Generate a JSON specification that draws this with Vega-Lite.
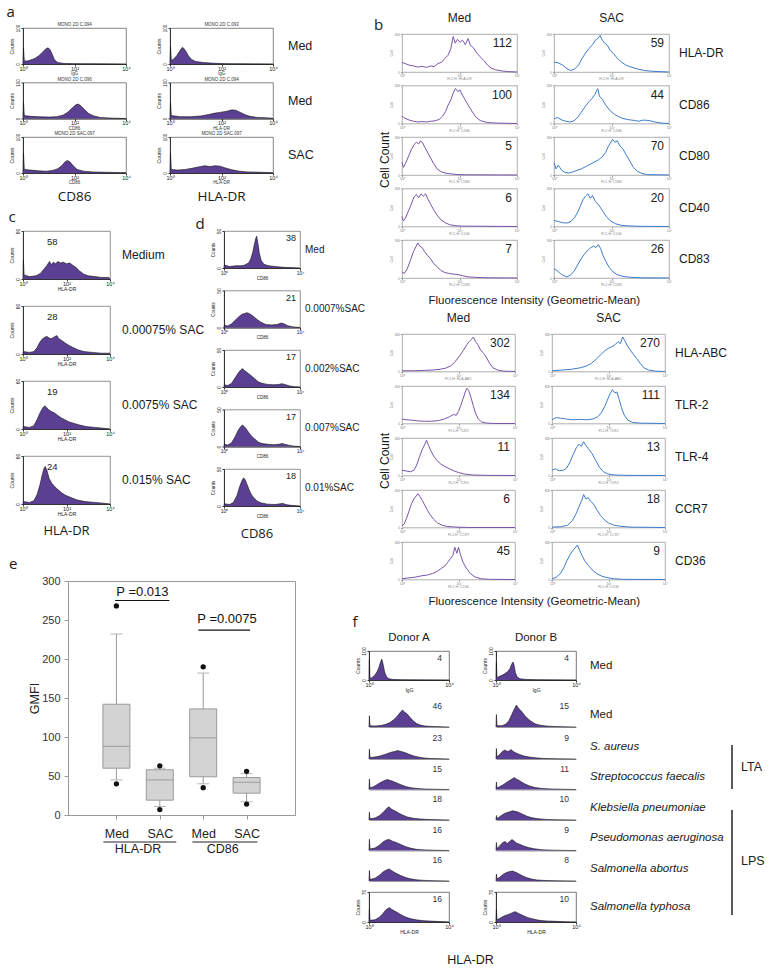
{
"$schema":"https://vega.github.io/schema/vega-lite/v6.json",
"background":"white",
"padding":{"left":6,"top":4,"right":0,"bottom":0},
"config":{
 "font":"Liberation Sans",
 "view":{"stroke":null},
 "axis":{"grid":false,"labelFont":"Liberation Sans","titleFont":"Liberation Sans","titleFontWeight":"normal","labelColor":"#222","titleColor":"#222","labelOverlap":false},
 "header":{"labelFont":"Liberation Sans","titleFont":"Liberation Sans","labelColor":"#1a1a1a","titleColor":"#1a1a1a","titleFontWeight":"normal"},
 "title":{"font":"Open Sans","fontWeight":"normal","color":"#1a1a1a","fontSize":15},
 "text":{"font":"Liberation Sans"}
},
"datasets":{
"a":[
{"r":"1","c":"CD86","t":"MONO 2D C.094","xt":"IgG"},
{"r":"1","c":"HLA-DR","t":"MONO 2D C.093","xt":"IgG"},
{"r":"2","c":"CD86","t":"MONO 2D C.096","xt":"CD86"},
{"r":"2","c":"HLA-DR","t":"MONO 2D C.094","xt":"HLA-DR"},
{"r":"3","c":"CD86","t":"MONO 2D SAC.097","xt":"CD86"},
{"r":"3","c":"HLA-DR","t":"MONO 2D SAC.097","xt":"HLA-DR"},
{"r":"1","c":"CD86","x":0,"y":0},{"r":"1","c":"CD86","x":0.02,"y":45},{"r":"1","c":"CD86","x":0.05,"y":9},{"r":"1","c":"CD86","x":0.15,"y":8},{"r":"1","c":"CD86","x":0.3,"y":11},{"r":"1","c":"CD86","x":0.45,"y":15},{"r":"1","c":"CD86","x":0.6,"y":22},{"r":"1","c":"CD86","x":0.75,"y":32},{"r":"1","c":"CD86","x":0.88,"y":42},{"r":"1","c":"CD86","x":0.97,"y":45},{"r":"1","c":"CD86","x":1.05,"y":40},{"r":"1","c":"CD86","x":1.13,"y":28},{"r":"1","c":"CD86","x":1.22,"y":12},{"r":"1","c":"CD86","x":1.35,"y":4},{"r":"1","c":"CD86","x":1.6,"y":1.5},{"r":"1","c":"CD86","x":2,"y":1},{"r":"1","c":"CD86","x":3,"y":0.5},{"r":"1","c":"CD86","x":4,"y":0},
{"r":"1","c":"HLA-DR","x":0,"y":0},{"r":"1","c":"HLA-DR","x":0.02,"y":48},{"r":"1","c":"HLA-DR","x":0.05,"y":10},{"r":"1","c":"HLA-DR","x":0.15,"y":14},{"r":"1","c":"HLA-DR","x":0.27,"y":24},{"r":"1","c":"HLA-DR","x":0.38,"y":36},{"r":"1","c":"HLA-DR","x":0.47,"y":46},{"r":"1","c":"HLA-DR","x":0.53,"y":44},{"r":"1","c":"HLA-DR","x":0.62,"y":35},{"r":"1","c":"HLA-DR","x":0.72,"y":22},{"r":"1","c":"HLA-DR","x":0.85,"y":12},{"r":"1","c":"HLA-DR","x":1,"y":7},{"r":"1","c":"HLA-DR","x":1.3,"y":4},{"r":"1","c":"HLA-DR","x":1.7,"y":2},{"r":"1","c":"HLA-DR","x":2.2,"y":1},{"r":"1","c":"HLA-DR","x":3,"y":0.5},{"r":"1","c":"HLA-DR","x":4,"y":0},
{"r":"2","c":"CD86","x":0,"y":0},{"r":"2","c":"CD86","x":0.02,"y":45},{"r":"2","c":"CD86","x":0.05,"y":8},{"r":"2","c":"CD86","x":0.3,"y":6},{"r":"2","c":"CD86","x":0.6,"y":5},{"r":"2","c":"CD86","x":1,"y":4},{"r":"2","c":"CD86","x":1.3,"y":5},{"r":"2","c":"CD86","x":1.55,"y":9},{"r":"2","c":"CD86","x":1.75,"y":18},{"r":"2","c":"CD86","x":1.92,"y":30},{"r":"2","c":"CD86","x":2.05,"y":38},{"r":"2","c":"CD86","x":2.15,"y":40},{"r":"2","c":"CD86","x":2.25,"y":35},{"r":"2","c":"CD86","x":2.4,"y":24},{"r":"2","c":"CD86","x":2.55,"y":14},{"r":"2","c":"CD86","x":2.75,"y":7},{"r":"2","c":"CD86","x":3,"y":3},{"r":"2","c":"CD86","x":3.5,"y":1},{"r":"2","c":"CD86","x":4,"y":0},
{"r":"2","c":"HLA-DR","x":0,"y":0},{"r":"2","c":"HLA-DR","x":0.02,"y":45},{"r":"2","c":"HLA-DR","x":0.05,"y":8},{"r":"2","c":"HLA-DR","x":0.4,"y":5},{"r":"2","c":"HLA-DR","x":0.8,"y":5},{"r":"2","c":"HLA-DR","x":1.2,"y":7},{"r":"2","c":"HLA-DR","x":1.5,"y":11},{"r":"2","c":"HLA-DR","x":1.75,"y":15},{"r":"2","c":"HLA-DR","x":1.95,"y":17},{"r":"2","c":"HLA-DR","x":2.1,"y":19},{"r":"2","c":"HLA-DR","x":2.25,"y":21},{"r":"2","c":"HLA-DR","x":2.4,"y":24},{"r":"2","c":"HLA-DR","x":2.55,"y":23},{"r":"2","c":"HLA-DR","x":2.7,"y":18},{"r":"2","c":"HLA-DR","x":2.9,"y":11},{"r":"2","c":"HLA-DR","x":3.1,"y":6},{"r":"2","c":"HLA-DR","x":3.4,"y":3},{"r":"2","c":"HLA-DR","x":3.7,"y":2},{"r":"2","c":"HLA-DR","x":4,"y":1},
{"r":"3","c":"CD86","x":0,"y":0},{"r":"3","c":"CD86","x":0.02,"y":55},{"r":"3","c":"CD86","x":0.05,"y":10},{"r":"3","c":"CD86","x":0.3,"y":8},{"r":"3","c":"CD86","x":0.6,"y":6},{"r":"3","c":"CD86","x":0.9,"y":5},{"r":"3","c":"CD86","x":1.15,"y":7},{"r":"3","c":"CD86","x":1.35,"y":12},{"r":"3","c":"CD86","x":1.5,"y":20},{"r":"3","c":"CD86","x":1.62,"y":30},{"r":"3","c":"CD86","x":1.72,"y":35},{"r":"3","c":"CD86","x":1.82,"y":31},{"r":"3","c":"CD86","x":1.95,"y":20},{"r":"3","c":"CD86","x":2.1,"y":10},{"r":"3","c":"CD86","x":2.35,"y":5},{"r":"3","c":"CD86","x":2.7,"y":3},{"r":"3","c":"CD86","x":3.2,"y":2},{"r":"3","c":"CD86","x":4,"y":1},
{"r":"3","c":"HLA-DR","x":0,"y":0},{"r":"3","c":"HLA-DR","x":0.02,"y":55},{"r":"3","c":"HLA-DR","x":0.05,"y":10},{"r":"3","c":"HLA-DR","x":0.3,"y":8},{"r":"3","c":"HLA-DR","x":0.6,"y":10},{"r":"3","c":"HLA-DR","x":0.85,"y":13},{"r":"3","c":"HLA-DR","x":1.1,"y":17},{"r":"3","c":"HLA-DR","x":1.35,"y":20},{"r":"3","c":"HLA-DR","x":1.55,"y":18},{"r":"3","c":"HLA-DR","x":1.75,"y":20},{"r":"3","c":"HLA-DR","x":1.95,"y":19},{"r":"3","c":"HLA-DR","x":2.15,"y":14},{"r":"3","c":"HLA-DR","x":2.4,"y":9},{"r":"3","c":"HLA-DR","x":2.7,"y":5},{"r":"3","c":"HLA-DR","x":3,"y":3},{"r":"3","c":"HLA-DR","x":3.5,"y":2},{"r":"3","c":"HLA-DR","x":4,"y":1}
],
"b1":[
{"r":"HLA-DR","c":"Med","n":"112","xt":"FL2-H: HLA-DR"},{"r":"CD86","c":"Med","n":"100","xt":"FL2-H: CD86"},{"r":"CD80","c":"Med","n":"5","xt":"FL1-H: CD80"},{"r":"CD40","c":"Med","n":"6","xt":"FL2-H: CD40"},{"r":"CD83","c":"Med","n":"7","xt":"FL1-H: CD83"},
{"r":"HLA-DR","c":"SAC","n":"59","xt":"FL2-H: HLA-DR"},{"r":"CD86","c":"SAC","n":"44","xt":"FL2-H: CD86"},{"r":"CD80","c":"SAC","n":"70","xt":"FL1-H: CD80"},{"r":"CD40","c":"SAC","n":"20","xt":"FL2-H: CD40"},{"r":"CD83","c":"SAC","n":"26","xt":"FL1-H: CD83"},
{"r":"HLA-DR","c":"Med","x":0,"y":25},{"r":"HLA-DR","c":"Med","x":0.12,"y":22},{"r":"HLA-DR","c":"Med","x":0.25,"y":18},{"r":"HLA-DR","c":"Med","x":0.4,"y":16},{"r":"HLA-DR","c":"Med","x":0.55,"y":13},{"r":"HLA-DR","c":"Med","x":0.7,"y":15},{"r":"HLA-DR","c":"Med","x":0.85,"y":12},{"r":"HLA-DR","c":"Med","x":1,"y":16},{"r":"HLA-DR","c":"Med","x":1.12,"y":14},{"r":"HLA-DR","c":"Med","x":1.25,"y":22},{"r":"HLA-DR","c":"Med","x":1.38,"y":26},{"r":"HLA-DR","c":"Med","x":1.5,"y":36},{"r":"HLA-DR","c":"Med","x":1.6,"y":44},{"r":"HLA-DR","c":"Med","x":1.7,"y":62},{"r":"HLA-DR","c":"Med","x":1.78,"y":93},{"r":"HLA-DR","c":"Med","x":1.85,"y":76},{"r":"HLA-DR","c":"Med","x":1.93,"y":86},{"r":"HLA-DR","c":"Med","x":2.02,"y":78},{"r":"HLA-DR","c":"Med","x":2.1,"y":84},{"r":"HLA-DR","c":"Med","x":2.2,"y":72},{"r":"HLA-DR","c":"Med","x":2.3,"y":88},{"r":"HLA-DR","c":"Med","x":2.38,"y":70},{"r":"HLA-DR","c":"Med","x":2.48,"y":64},{"r":"HLA-DR","c":"Med","x":2.6,"y":50},{"r":"HLA-DR","c":"Med","x":2.72,"y":40},{"r":"HLA-DR","c":"Med","x":2.85,"y":30},{"r":"HLA-DR","c":"Med","x":2.98,"y":18},{"r":"HLA-DR","c":"Med","x":3.1,"y":10},{"r":"HLA-DR","c":"Med","x":3.25,"y":6},{"r":"HLA-DR","c":"Med","x":3.45,"y":3},{"r":"HLA-DR","c":"Med","x":3.7,"y":1},{"r":"HLA-DR","c":"Med","x":4,"y":0},
{"r":"CD86","c":"Med","x":0,"y":20},{"r":"CD86","c":"Med","x":0.1,"y":14},{"r":"CD86","c":"Med","x":0.25,"y":9},{"r":"CD86","c":"Med","x":0.4,"y":6},{"r":"CD86","c":"Med","x":0.55,"y":4},{"r":"CD86","c":"Med","x":0.7,"y":5},{"r":"CD86","c":"Med","x":0.85,"y":4},{"r":"CD86","c":"Med","x":1,"y":6},{"r":"CD86","c":"Med","x":1.15,"y":7},{"r":"CD86","c":"Med","x":1.3,"y":11},{"r":"CD86","c":"Med","x":1.42,"y":20},{"r":"CD86","c":"Med","x":1.52,"y":32},{"r":"CD86","c":"Med","x":1.6,"y":48},{"r":"CD86","c":"Med","x":1.7,"y":62},{"r":"CD86","c":"Med","x":1.78,"y":80},{"r":"CD86","c":"Med","x":1.86,"y":92},{"r":"CD86","c":"Med","x":1.94,"y":84},{"r":"CD86","c":"Med","x":2.02,"y":88},{"r":"CD86","c":"Med","x":2.1,"y":75},{"r":"CD86","c":"Med","x":2.2,"y":62},{"r":"CD86","c":"Med","x":2.32,"y":46},{"r":"CD86","c":"Med","x":2.45,"y":30},{"r":"CD86","c":"Med","x":2.58,"y":16},{"r":"CD86","c":"Med","x":2.72,"y":8},{"r":"CD86","c":"Med","x":2.88,"y":4},{"r":"CD86","c":"Med","x":3.05,"y":2},{"r":"CD86","c":"Med","x":3.3,"y":1},{"r":"CD86","c":"Med","x":4,"y":0},
{"r":"CD80","c":"Med","x":0,"y":34},{"r":"CD80","c":"Med","x":0.05,"y":20},{"r":"CD80","c":"Med","x":0.12,"y":30},{"r":"CD80","c":"Med","x":0.22,"y":48},{"r":"CD80","c":"Med","x":0.32,"y":66},{"r":"CD80","c":"Med","x":0.42,"y":80},{"r":"CD80","c":"Med","x":0.5,"y":86},{"r":"CD80","c":"Med","x":0.58,"y":82},{"r":"CD80","c":"Med","x":0.65,"y":90},{"r":"CD80","c":"Med","x":0.72,"y":84},{"r":"CD80","c":"Med","x":0.8,"y":72},{"r":"CD80","c":"Med","x":0.9,"y":58},{"r":"CD80","c":"Med","x":1,"y":44},{"r":"CD80","c":"Med","x":1.1,"y":30},{"r":"CD80","c":"Med","x":1.22,"y":16},{"r":"CD80","c":"Med","x":1.35,"y":9},{"r":"CD80","c":"Med","x":1.5,"y":5},{"r":"CD80","c":"Med","x":1.7,"y":3},{"r":"CD80","c":"Med","x":1.95,"y":1},{"r":"CD80","c":"Med","x":2.3,"y":0.5},{"r":"CD80","c":"Med","x":4,"y":0},
{"r":"CD40","c":"Med","x":0,"y":26},{"r":"CD40","c":"Med","x":0.05,"y":15},{"r":"CD40","c":"Med","x":0.12,"y":22},{"r":"CD40","c":"Med","x":0.22,"y":40},{"r":"CD40","c":"Med","x":0.32,"y":58},{"r":"CD40","c":"Med","x":0.42,"y":78},{"r":"CD40","c":"Med","x":0.5,"y":84},{"r":"CD40","c":"Med","x":0.58,"y":76},{"r":"CD40","c":"Med","x":0.66,"y":86},{"r":"CD40","c":"Med","x":0.74,"y":80},{"r":"CD40","c":"Med","x":0.82,"y":86},{"r":"CD40","c":"Med","x":0.9,"y":72},{"r":"CD40","c":"Med","x":1,"y":58},{"r":"CD40","c":"Med","x":1.1,"y":44},{"r":"CD40","c":"Med","x":1.22,"y":30},{"r":"CD40","c":"Med","x":1.35,"y":18},{"r":"CD40","c":"Med","x":1.5,"y":10},{"r":"CD40","c":"Med","x":1.65,"y":5},{"r":"CD40","c":"Med","x":1.85,"y":2},{"r":"CD40","c":"Med","x":2.1,"y":1},{"r":"CD40","c":"Med","x":4,"y":0},
{"r":"CD83","c":"Med","x":0,"y":16},{"r":"CD83","c":"Med","x":0.08,"y":12},{"r":"CD83","c":"Med","x":0.18,"y":24},{"r":"CD83","c":"Med","x":0.3,"y":48},{"r":"CD83","c":"Med","x":0.4,"y":70},{"r":"CD83","c":"Med","x":0.48,"y":82},{"r":"CD83","c":"Med","x":0.55,"y":92},{"r":"CD83","c":"Med","x":0.62,"y":84},{"r":"CD83","c":"Med","x":0.7,"y":80},{"r":"CD83","c":"Med","x":0.78,"y":70},{"r":"CD83","c":"Med","x":0.88,"y":60},{"r":"CD83","c":"Med","x":0.98,"y":52},{"r":"CD83","c":"Med","x":1.1,"y":38},{"r":"CD83","c":"Med","x":1.22,"y":30},{"r":"CD83","c":"Med","x":1.35,"y":20},{"r":"CD83","c":"Med","x":1.5,"y":14},{"r":"CD83","c":"Med","x":1.65,"y":12},{"r":"CD83","c":"Med","x":1.8,"y":10},{"r":"CD83","c":"Med","x":1.95,"y":9},{"r":"CD83","c":"Med","x":2.1,"y":6},{"r":"CD83","c":"Med","x":2.3,"y":3},{"r":"CD83","c":"Med","x":2.6,"y":1.5},{"r":"CD83","c":"Med","x":3,"y":0.5},{"r":"CD83","c":"Med","x":4,"y":0},
{"r":"HLA-DR","c":"SAC","x":0,"y":26},{"r":"HLA-DR","c":"SAC","x":0.15,"y":24},{"r":"HLA-DR","c":"SAC","x":0.3,"y":18},{"r":"HLA-DR","c":"SAC","x":0.45,"y":9},{"r":"HLA-DR","c":"SAC","x":0.58,"y":4},{"r":"HLA-DR","c":"SAC","x":0.72,"y":8},{"r":"HLA-DR","c":"SAC","x":0.85,"y":18},{"r":"HLA-DR","c":"SAC","x":0.98,"y":36},{"r":"HLA-DR","c":"SAC","x":1.1,"y":50},{"r":"HLA-DR","c":"SAC","x":1.22,"y":62},{"r":"HLA-DR","c":"SAC","x":1.34,"y":72},{"r":"HLA-DR","c":"SAC","x":1.44,"y":84},{"r":"HLA-DR","c":"SAC","x":1.52,"y":88},{"r":"HLA-DR","c":"SAC","x":1.6,"y":96},{"r":"HLA-DR","c":"SAC","x":1.68,"y":84},{"r":"HLA-DR","c":"SAC","x":1.76,"y":76},{"r":"HLA-DR","c":"SAC","x":1.86,"y":70},{"r":"HLA-DR","c":"SAC","x":1.96,"y":56},{"r":"HLA-DR","c":"SAC","x":2.08,"y":48},{"r":"HLA-DR","c":"SAC","x":2.2,"y":36},{"r":"HLA-DR","c":"SAC","x":2.35,"y":26},{"r":"HLA-DR","c":"SAC","x":2.5,"y":18},{"r":"HLA-DR","c":"SAC","x":2.65,"y":14},{"r":"HLA-DR","c":"SAC","x":2.8,"y":10},{"r":"HLA-DR","c":"SAC","x":2.95,"y":7},{"r":"HLA-DR","c":"SAC","x":3.15,"y":4},{"r":"HLA-DR","c":"SAC","x":3.4,"y":2},{"r":"HLA-DR","c":"SAC","x":3.7,"y":1},{"r":"HLA-DR","c":"SAC","x":4,"y":0},
{"r":"CD86","c":"SAC","x":0,"y":12},{"r":"CD86","c":"SAC","x":0.12,"y":16},{"r":"CD86","c":"SAC","x":0.25,"y":10},{"r":"CD86","c":"SAC","x":0.4,"y":6},{"r":"CD86","c":"SAC","x":0.55,"y":4},{"r":"CD86","c":"SAC","x":0.7,"y":7},{"r":"CD86","c":"SAC","x":0.82,"y":16},{"r":"CD86","c":"SAC","x":0.95,"y":30},{"r":"CD86","c":"SAC","x":1.08,"y":44},{"r":"CD86","c":"SAC","x":1.2,"y":56},{"r":"CD86","c":"SAC","x":1.32,"y":66},{"r":"CD86","c":"SAC","x":1.42,"y":76},{"r":"CD86","c":"SAC","x":1.52,"y":92},{"r":"CD86","c":"SAC","x":1.58,"y":72},{"r":"CD86","c":"SAC","x":1.68,"y":64},{"r":"CD86","c":"SAC","x":1.8,"y":48},{"r":"CD86","c":"SAC","x":1.95,"y":34},{"r":"CD86","c":"SAC","x":2.1,"y":24},{"r":"CD86","c":"SAC","x":2.25,"y":18},{"r":"CD86","c":"SAC","x":2.4,"y":13},{"r":"CD86","c":"SAC","x":2.6,"y":10},{"r":"CD86","c":"SAC","x":2.8,"y":8},{"r":"CD86","c":"SAC","x":2.95,"y":6},{"r":"CD86","c":"SAC","x":3.1,"y":9},{"r":"CD86","c":"SAC","x":3.3,"y":8},{"r":"CD86","c":"SAC","x":3.5,"y":4},{"r":"CD86","c":"SAC","x":3.75,"y":1},{"r":"CD86","c":"SAC","x":4,"y":0},
{"r":"CD80","c":"SAC","x":0,"y":32},{"r":"CD80","c":"SAC","x":0.07,"y":16},{"r":"CD80","c":"SAC","x":0.15,"y":26},{"r":"CD80","c":"SAC","x":0.25,"y":14},{"r":"CD80","c":"SAC","x":0.35,"y":8},{"r":"CD80","c":"SAC","x":0.5,"y":5},{"r":"CD80","c":"SAC","x":0.65,"y":8},{"r":"CD80","c":"SAC","x":0.8,"y":12},{"r":"CD80","c":"SAC","x":0.95,"y":16},{"r":"CD80","c":"SAC","x":1.1,"y":22},{"r":"CD80","c":"SAC","x":1.25,"y":28},{"r":"CD80","c":"SAC","x":1.4,"y":34},{"r":"CD80","c":"SAC","x":1.55,"y":40},{"r":"CD80","c":"SAC","x":1.68,"y":48},{"r":"CD80","c":"SAC","x":1.8,"y":60},{"r":"CD80","c":"SAC","x":1.88,"y":74},{"r":"CD80","c":"SAC","x":1.96,"y":84},{"r":"CD80","c":"SAC","x":2.04,"y":94},{"r":"CD80","c":"SAC","x":2.12,"y":86},{"r":"CD80","c":"SAC","x":2.2,"y":90},{"r":"CD80","c":"SAC","x":2.3,"y":76},{"r":"CD80","c":"SAC","x":2.4,"y":68},{"r":"CD80","c":"SAC","x":2.52,"y":52},{"r":"CD80","c":"SAC","x":2.64,"y":36},{"r":"CD80","c":"SAC","x":2.76,"y":20},{"r":"CD80","c":"SAC","x":2.9,"y":10},{"r":"CD80","c":"SAC","x":3.05,"y":4},{"r":"CD80","c":"SAC","x":3.25,"y":1},{"r":"CD80","c":"SAC","x":4,"y":0},
{"r":"CD40","c":"SAC","x":0,"y":16},{"r":"CD40","c":"SAC","x":0.15,"y":13},{"r":"CD40","c":"SAC","x":0.3,"y":10},{"r":"CD40","c":"SAC","x":0.45,"y":9},{"r":"CD40","c":"SAC","x":0.6,"y":14},{"r":"CD40","c":"SAC","x":0.72,"y":24},{"r":"CD40","c":"SAC","x":0.84,"y":40},{"r":"CD40","c":"SAC","x":0.94,"y":58},{"r":"CD40","c":"SAC","x":1.02,"y":72},{"r":"CD40","c":"SAC","x":1.1,"y":80},{"r":"CD40","c":"SAC","x":1.18,"y":86},{"r":"CD40","c":"SAC","x":1.26,"y":74},{"r":"CD40","c":"SAC","x":1.34,"y":82},{"r":"CD40","c":"SAC","x":1.44,"y":66},{"r":"CD40","c":"SAC","x":1.56,"y":56},{"r":"CD40","c":"SAC","x":1.7,"y":40},{"r":"CD40","c":"SAC","x":1.84,"y":24},{"r":"CD40","c":"SAC","x":1.98,"y":14},{"r":"CD40","c":"SAC","x":2.15,"y":7},{"r":"CD40","c":"SAC","x":2.35,"y":3},{"r":"CD40","c":"SAC","x":2.6,"y":1.5},{"r":"CD40","c":"SAC","x":3,"y":0.5},{"r":"CD40","c":"SAC","x":4,"y":0},
{"r":"CD83","c":"SAC","x":0,"y":24},{"r":"CD83","c":"SAC","x":0.1,"y":20},{"r":"CD83","c":"SAC","x":0.22,"y":12},{"r":"CD83","c":"SAC","x":0.35,"y":6},{"r":"CD83","c":"SAC","x":0.45,"y":3},{"r":"CD83","c":"SAC","x":0.58,"y":8},{"r":"CD83","c":"SAC","x":0.7,"y":18},{"r":"CD83","c":"SAC","x":0.82,"y":34},{"r":"CD83","c":"SAC","x":0.94,"y":50},{"r":"CD83","c":"SAC","x":1.05,"y":62},{"r":"CD83","c":"SAC","x":1.16,"y":72},{"r":"CD83","c":"SAC","x":1.28,"y":80},{"r":"CD83","c":"SAC","x":1.38,"y":84},{"r":"CD83","c":"SAC","x":1.46,"y":80},{"r":"CD83","c":"SAC","x":1.54,"y":88},{"r":"CD83","c":"SAC","x":1.62,"y":78},{"r":"CD83","c":"SAC","x":1.7,"y":60},{"r":"CD83","c":"SAC","x":1.8,"y":44},{"r":"CD83","c":"SAC","x":1.92,"y":28},{"r":"CD83","c":"SAC","x":2.05,"y":16},{"r":"CD83","c":"SAC","x":2.2,"y":9},{"r":"CD83","c":"SAC","x":2.4,"y":4},{"r":"CD83","c":"SAC","x":2.65,"y":2},{"r":"CD83","c":"SAC","x":3,"y":0.5},{"r":"CD83","c":"SAC","x":4,"y":0}
],
"b2":[
{"r":"HLA-ABC","c":"Med","n":"302","xt":"FL1-H: HLA-ABC"},{"r":"TLR-2","c":"Med","n":"134","xt":"FL1-H: TLR2"},{"r":"TLR-4","c":"Med","n":"11","xt":"FL2-H: TLR4"},{"r":"CCR7","c":"Med","n":"6","xt":"FL2-H: CCR7"},{"r":"CD36","c":"Med","n":"45","xt":"FL1-H: CD36"},
{"r":"HLA-ABC","c":"SAC","n":"270","xt":"FL1-H: HLA-ABC"},{"r":"TLR-2","c":"SAC","n":"111","xt":"FL1-H: TLR2"},{"r":"TLR-4","c":"SAC","n":"13","xt":"FL2-H: TLR4"},{"r":"CCR7","c":"SAC","n":"18","xt":"FL2-H: CCR7"},{"r":"CD36","c":"SAC","n":"9","xt":"FL1-H: CD36"},
{"r":"HLA-ABC","c":"Med","x":0,"y":2},{"r":"HLA-ABC","c":"Med","x":0.4,"y":2},{"r":"HLA-ABC","c":"Med","x":0.8,"y":3},{"r":"HLA-ABC","c":"Med","x":1.1,"y":4},{"r":"HLA-ABC","c":"Med","x":1.35,"y":6},{"r":"HLA-ABC","c":"Med","x":1.55,"y":9},{"r":"HLA-ABC","c":"Med","x":1.72,"y":15},{"r":"HLA-ABC","c":"Med","x":1.86,"y":24},{"r":"HLA-ABC","c":"Med","x":1.98,"y":36},{"r":"HLA-ABC","c":"Med","x":2.1,"y":48},{"r":"HLA-ABC","c":"Med","x":2.2,"y":60},{"r":"HLA-ABC","c":"Med","x":2.3,"y":72},{"r":"HLA-ABC","c":"Med","x":2.38,"y":80},{"r":"HLA-ABC","c":"Med","x":2.46,"y":86},{"r":"HLA-ABC","c":"Med","x":2.53,"y":92},{"r":"HLA-ABC","c":"Med","x":2.6,"y":80},{"r":"HLA-ABC","c":"Med","x":2.68,"y":72},{"r":"HLA-ABC","c":"Med","x":2.76,"y":60},{"r":"HLA-ABC","c":"Med","x":2.84,"y":52},{"r":"HLA-ABC","c":"Med","x":2.92,"y":46},{"r":"HLA-ABC","c":"Med","x":3,"y":36},{"r":"HLA-ABC","c":"Med","x":3.1,"y":22},{"r":"HLA-ABC","c":"Med","x":3.22,"y":10},{"r":"HLA-ABC","c":"Med","x":3.38,"y":4},{"r":"HLA-ABC","c":"Med","x":3.6,"y":1},{"r":"HLA-ABC","c":"Med","x":4,"y":0},
{"r":"TLR-2","c":"Med","x":0,"y":12},{"r":"TLR-2","c":"Med","x":0.15,"y":10},{"r":"TLR-2","c":"Med","x":0.35,"y":9},{"r":"TLR-2","c":"Med","x":0.55,"y":7},{"r":"TLR-2","c":"Med","x":0.8,"y":6},{"r":"TLR-2","c":"Med","x":1.05,"y":6},{"r":"TLR-2","c":"Med","x":1.3,"y":8},{"r":"TLR-2","c":"Med","x":1.5,"y":12},{"r":"TLR-2","c":"Med","x":1.68,"y":18},{"r":"TLR-2","c":"Med","x":1.82,"y":24},{"r":"TLR-2","c":"Med","x":1.92,"y":22},{"r":"TLR-2","c":"Med","x":2,"y":32},{"r":"TLR-2","c":"Med","x":2.08,"y":48},{"r":"TLR-2","c":"Med","x":2.16,"y":66},{"r":"TLR-2","c":"Med","x":2.24,"y":84},{"r":"TLR-2","c":"Med","x":2.3,"y":94},{"r":"TLR-2","c":"Med","x":2.36,"y":88},{"r":"TLR-2","c":"Med","x":2.44,"y":70},{"r":"TLR-2","c":"Med","x":2.52,"y":48},{"r":"TLR-2","c":"Med","x":2.6,"y":28},{"r":"TLR-2","c":"Med","x":2.7,"y":12},{"r":"TLR-2","c":"Med","x":2.82,"y":4},{"r":"TLR-2","c":"Med","x":3,"y":1},{"r":"TLR-2","c":"Med","x":3.3,"y":0},{"r":"TLR-2","c":"Med","x":4,"y":0},
{"r":"TLR-4","c":"Med","x":0,"y":14},{"r":"TLR-4","c":"Med","x":0.15,"y":12},{"r":"TLR-4","c":"Med","x":0.3,"y":10},{"r":"TLR-4","c":"Med","x":0.42,"y":14},{"r":"TLR-4","c":"Med","x":0.52,"y":28},{"r":"TLR-4","c":"Med","x":0.62,"y":50},{"r":"TLR-4","c":"Med","x":0.72,"y":70},{"r":"TLR-4","c":"Med","x":0.8,"y":82},{"r":"TLR-4","c":"Med","x":0.87,"y":94},{"r":"TLR-4","c":"Med","x":0.94,"y":80},{"r":"TLR-4","c":"Med","x":1.02,"y":66},{"r":"TLR-4","c":"Med","x":1.12,"y":52},{"r":"TLR-4","c":"Med","x":1.24,"y":40},{"r":"TLR-4","c":"Med","x":1.38,"y":30},{"r":"TLR-4","c":"Med","x":1.52,"y":24},{"r":"TLR-4","c":"Med","x":1.68,"y":18},{"r":"TLR-4","c":"Med","x":1.85,"y":12},{"r":"TLR-4","c":"Med","x":2,"y":8},{"r":"TLR-4","c":"Med","x":2.2,"y":4},{"r":"TLR-4","c":"Med","x":2.5,"y":1.5},{"r":"TLR-4","c":"Med","x":2.9,"y":0.5},{"r":"TLR-4","c":"Med","x":4,"y":0},
{"r":"CCR7","c":"Med","x":0,"y":4},{"r":"CCR7","c":"Med","x":0.08,"y":10},{"r":"CCR7","c":"Med","x":0.16,"y":24},{"r":"CCR7","c":"Med","x":0.25,"y":44},{"r":"CCR7","c":"Med","x":0.34,"y":64},{"r":"CCR7","c":"Med","x":0.42,"y":76},{"r":"CCR7","c":"Med","x":0.5,"y":84},{"r":"CCR7","c":"Med","x":0.57,"y":90},{"r":"CCR7","c":"Med","x":0.64,"y":82},{"r":"CCR7","c":"Med","x":0.72,"y":72},{"r":"CCR7","c":"Med","x":0.8,"y":60},{"r":"CCR7","c":"Med","x":0.9,"y":46},{"r":"CCR7","c":"Med","x":1,"y":34},{"r":"CCR7","c":"Med","x":1.12,"y":22},{"r":"CCR7","c":"Med","x":1.26,"y":12},{"r":"CCR7","c":"Med","x":1.42,"y":6},{"r":"CCR7","c":"Med","x":1.6,"y":3},{"r":"CCR7","c":"Med","x":1.9,"y":1},{"r":"CCR7","c":"Med","x":2.4,"y":0},{"r":"CCR7","c":"Med","x":4,"y":0},
{"r":"CD36","c":"Med","x":0,"y":2},{"r":"CD36","c":"Med","x":0.2,"y":4},{"r":"CD36","c":"Med","x":0.45,"y":6},{"r":"CD36","c":"Med","x":0.7,"y":10},{"r":"CD36","c":"Med","x":0.9,"y":12},{"r":"CD36","c":"Med","x":1.08,"y":16},{"r":"CD36","c":"Med","x":1.25,"y":22},{"r":"CD36","c":"Med","x":1.4,"y":30},{"r":"CD36","c":"Med","x":1.52,"y":36},{"r":"CD36","c":"Med","x":1.62,"y":46},{"r":"CD36","c":"Med","x":1.72,"y":56},{"r":"CD36","c":"Med","x":1.8,"y":64},{"r":"CD36","c":"Med","x":1.87,"y":86},{"r":"CD36","c":"Med","x":1.94,"y":70},{"r":"CD36","c":"Med","x":2,"y":86},{"r":"CD36","c":"Med","x":2.07,"y":66},{"r":"CD36","c":"Med","x":2.16,"y":46},{"r":"CD36","c":"Med","x":2.28,"y":30},{"r":"CD36","c":"Med","x":2.42,"y":16},{"r":"CD36","c":"Med","x":2.58,"y":7},{"r":"CD36","c":"Med","x":2.78,"y":2},{"r":"CD36","c":"Med","x":3.1,"y":0.5},{"r":"CD36","c":"Med","x":4,"y":0},
{"r":"HLA-ABC","c":"SAC","x":0,"y":2},{"r":"HLA-ABC","c":"SAC","x":0.35,"y":4},{"r":"HLA-ABC","c":"SAC","x":0.7,"y":6},{"r":"HLA-ABC","c":"SAC","x":1,"y":10},{"r":"HLA-ABC","c":"SAC","x":1.2,"y":14},{"r":"HLA-ABC","c":"SAC","x":1.4,"y":22},{"r":"HLA-ABC","c":"SAC","x":1.58,"y":34},{"r":"HLA-ABC","c":"SAC","x":1.74,"y":46},{"r":"HLA-ABC","c":"SAC","x":1.88,"y":56},{"r":"HLA-ABC","c":"SAC","x":2,"y":62},{"r":"HLA-ABC","c":"SAC","x":2.12,"y":66},{"r":"HLA-ABC","c":"SAC","x":2.24,"y":72},{"r":"HLA-ABC","c":"SAC","x":2.34,"y":80},{"r":"HLA-ABC","c":"SAC","x":2.42,"y":74},{"r":"HLA-ABC","c":"SAC","x":2.5,"y":92},{"r":"HLA-ABC","c":"SAC","x":2.58,"y":82},{"r":"HLA-ABC","c":"SAC","x":2.66,"y":70},{"r":"HLA-ABC","c":"SAC","x":2.76,"y":58},{"r":"HLA-ABC","c":"SAC","x":2.88,"y":46},{"r":"HLA-ABC","c":"SAC","x":3,"y":34},{"r":"HLA-ABC","c":"SAC","x":3.12,"y":22},{"r":"HLA-ABC","c":"SAC","x":3.25,"y":10},{"r":"HLA-ABC","c":"SAC","x":3.42,"y":4},{"r":"HLA-ABC","c":"SAC","x":3.65,"y":1},{"r":"HLA-ABC","c":"SAC","x":4,"y":0},
{"r":"TLR-2","c":"SAC","x":0,"y":10},{"r":"TLR-2","c":"SAC","x":0.15,"y":16},{"r":"TLR-2","c":"SAC","x":0.3,"y":14},{"r":"TLR-2","c":"SAC","x":0.5,"y":12},{"r":"TLR-2","c":"SAC","x":0.75,"y":10},{"r":"TLR-2","c":"SAC","x":1,"y":11},{"r":"TLR-2","c":"SAC","x":1.25,"y":10},{"r":"TLR-2","c":"SAC","x":1.45,"y":12},{"r":"TLR-2","c":"SAC","x":1.62,"y":18},{"r":"TLR-2","c":"SAC","x":1.76,"y":30},{"r":"TLR-2","c":"SAC","x":1.88,"y":48},{"r":"TLR-2","c":"SAC","x":1.98,"y":66},{"r":"TLR-2","c":"SAC","x":2.06,"y":80},{"r":"TLR-2","c":"SAC","x":2.14,"y":90},{"r":"TLR-2","c":"SAC","x":2.22,"y":82},{"r":"TLR-2","c":"SAC","x":2.3,"y":84},{"r":"TLR-2","c":"SAC","x":2.38,"y":64},{"r":"TLR-2","c":"SAC","x":2.46,"y":42},{"r":"TLR-2","c":"SAC","x":2.56,"y":22},{"r":"TLR-2","c":"SAC","x":2.68,"y":9},{"r":"TLR-2","c":"SAC","x":2.85,"y":3},{"r":"TLR-2","c":"SAC","x":3.1,"y":1},{"r":"TLR-2","c":"SAC","x":4,"y":0},
{"r":"TLR-4","c":"SAC","x":0,"y":14},{"r":"TLR-4","c":"SAC","x":0.12,"y":18},{"r":"TLR-4","c":"SAC","x":0.25,"y":13},{"r":"TLR-4","c":"SAC","x":0.4,"y":14},{"r":"TLR-4","c":"SAC","x":0.52,"y":20},{"r":"TLR-4","c":"SAC","x":0.64,"y":36},{"r":"TLR-4","c":"SAC","x":0.76,"y":58},{"r":"TLR-4","c":"SAC","x":0.86,"y":74},{"r":"TLR-4","c":"SAC","x":0.96,"y":84},{"r":"TLR-4","c":"SAC","x":1.04,"y":78},{"r":"TLR-4","c":"SAC","x":1.12,"y":90},{"r":"TLR-4","c":"SAC","x":1.2,"y":80},{"r":"TLR-4","c":"SAC","x":1.3,"y":70},{"r":"TLR-4","c":"SAC","x":1.42,"y":58},{"r":"TLR-4","c":"SAC","x":1.55,"y":40},{"r":"TLR-4","c":"SAC","x":1.68,"y":22},{"r":"TLR-4","c":"SAC","x":1.82,"y":10},{"r":"TLR-4","c":"SAC","x":1.98,"y":4},{"r":"TLR-4","c":"SAC","x":2.2,"y":1.5},{"r":"TLR-4","c":"SAC","x":2.5,"y":0.5},{"r":"TLR-4","c":"SAC","x":4,"y":0},
{"r":"CCR7","c":"SAC","x":0,"y":1},{"r":"CCR7","c":"SAC","x":0.3,"y":2},{"r":"CCR7","c":"SAC","x":0.55,"y":6},{"r":"CCR7","c":"SAC","x":0.72,"y":18},{"r":"CCR7","c":"SAC","x":0.86,"y":38},{"r":"CCR7","c":"SAC","x":0.96,"y":56},{"r":"CCR7","c":"SAC","x":1.05,"y":72},{"r":"CCR7","c":"SAC","x":1.12,"y":88},{"r":"CCR7","c":"SAC","x":1.2,"y":76},{"r":"CCR7","c":"SAC","x":1.28,"y":80},{"r":"CCR7","c":"SAC","x":1.36,"y":70},{"r":"CCR7","c":"SAC","x":1.46,"y":64},{"r":"CCR7","c":"SAC","x":1.58,"y":48},{"r":"CCR7","c":"SAC","x":1.72,"y":32},{"r":"CCR7","c":"SAC","x":1.86,"y":20},{"r":"CCR7","c":"SAC","x":2,"y":12},{"r":"CCR7","c":"SAC","x":2.2,"y":6},{"r":"CCR7","c":"SAC","x":2.45,"y":3},{"r":"CCR7","c":"SAC","x":2.8,"y":1},{"r":"CCR7","c":"SAC","x":4,"y":0},
{"r":"CD36","c":"SAC","x":0,"y":2},{"r":"CD36","c":"SAC","x":0.15,"y":6},{"r":"CD36","c":"SAC","x":0.3,"y":16},{"r":"CD36","c":"SAC","x":0.42,"y":32},{"r":"CD36","c":"SAC","x":0.54,"y":52},{"r":"CD36","c":"SAC","x":0.64,"y":66},{"r":"CD36","c":"SAC","x":0.74,"y":78},{"r":"CD36","c":"SAC","x":0.82,"y":84},{"r":"CD36","c":"SAC","x":0.9,"y":92},{"r":"CD36","c":"SAC","x":0.98,"y":78},{"r":"CD36","c":"SAC","x":1.06,"y":64},{"r":"CD36","c":"SAC","x":1.16,"y":50},{"r":"CD36","c":"SAC","x":1.28,"y":38},{"r":"CD36","c":"SAC","x":1.42,"y":26},{"r":"CD36","c":"SAC","x":1.58,"y":16},{"r":"CD36","c":"SAC","x":1.76,"y":9},{"r":"CD36","c":"SAC","x":1.95,"y":5},{"r":"CD36","c":"SAC","x":2.2,"y":2},{"r":"CD36","c":"SAC","x":2.5,"y":0.5},{"r":"CD36","c":"SAC","x":4,"y":0}
],
"c":[
{"r":"Medium","n":"58"},{"r":"0.00075% SAC","n":"28"},{"r":"0.0075% SAC","n":"19"},{"r":"0.015% SAC","n":"24"},
{"r":"Medium","x":0,"y":0},{"r":"Medium","x":0.02,"y":24},{"r":"Medium","x":0.05,"y":5},{"r":"Medium","x":0.3,"y":3},{"r":"Medium","x":0.6,"y":4},{"r":"Medium","x":0.8,"y":7},{"r":"Medium","x":0.95,"y":12},{"r":"Medium","x":1.1,"y":17},{"r":"Medium","x":1.22,"y":22},{"r":"Medium","x":1.3,"y":18},{"r":"Medium","x":1.4,"y":21},{"r":"Medium","x":1.5,"y":19},{"r":"Medium","x":1.6,"y":22},{"r":"Medium","x":1.72,"y":20},{"r":"Medium","x":1.85,"y":21},{"r":"Medium","x":2,"y":19},{"r":"Medium","x":2.15,"y":20},{"r":"Medium","x":2.3,"y":17},{"r":"Medium","x":2.45,"y":14},{"r":"Medium","x":2.6,"y":10},{"r":"Medium","x":2.8,"y":6},{"r":"Medium","x":3,"y":4},{"r":"Medium","x":3.3,"y":3},{"r":"Medium","x":3.6,"y":2},{"r":"Medium","x":3.9,"y":2},{"r":"Medium","x":4,"y":1},
{"r":"0.00075% SAC","x":0,"y":0},{"r":"0.00075% SAC","x":0.02,"y":3},{"r":"0.00075% SAC","x":0.3,"y":2},{"r":"0.00075% SAC","x":0.5,"y":3},{"r":"0.00075% SAC","x":0.65,"y":8},{"r":"0.00075% SAC","x":0.78,"y":15},{"r":"0.00075% SAC","x":0.9,"y":19},{"r":"0.00075% SAC","x":1,"y":21},{"r":"0.00075% SAC","x":1.1,"y":22},{"r":"0.00075% SAC","x":1.2,"y":20},{"r":"0.00075% SAC","x":1.3,"y":19},{"r":"0.00075% SAC","x":1.42,"y":21},{"r":"0.00075% SAC","x":1.55,"y":23},{"r":"0.00075% SAC","x":1.65,"y":19},{"r":"0.00075% SAC","x":1.78,"y":17},{"r":"0.00075% SAC","x":1.92,"y":14},{"r":"0.00075% SAC","x":2.1,"y":11},{"r":"0.00075% SAC","x":2.3,"y":8},{"r":"0.00075% SAC","x":2.55,"y":5},{"r":"0.00075% SAC","x":2.8,"y":3},{"r":"0.00075% SAC","x":3.2,"y":2},{"r":"0.00075% SAC","x":3.6,"y":1},{"r":"0.00075% SAC","x":4,"y":1},
{"r":"0.0075% SAC","x":0,"y":0},{"r":"0.0075% SAC","x":0.02,"y":3},{"r":"0.0075% SAC","x":0.3,"y":2},{"r":"0.0075% SAC","x":0.5,"y":4},{"r":"0.0075% SAC","x":0.65,"y":12},{"r":"0.0075% SAC","x":0.78,"y":20},{"r":"0.0075% SAC","x":0.9,"y":26},{"r":"0.0075% SAC","x":1,"y":29},{"r":"0.0075% SAC","x":1.08,"y":27},{"r":"0.0075% SAC","x":1.18,"y":24},{"r":"0.0075% SAC","x":1.3,"y":22},{"r":"0.0075% SAC","x":1.45,"y":20},{"r":"0.0075% SAC","x":1.6,"y":17},{"r":"0.0075% SAC","x":1.75,"y":14},{"r":"0.0075% SAC","x":1.9,"y":12},{"r":"0.0075% SAC","x":2.1,"y":9},{"r":"0.0075% SAC","x":2.35,"y":7},{"r":"0.0075% SAC","x":2.6,"y":5},{"r":"0.0075% SAC","x":2.9,"y":3},{"r":"0.0075% SAC","x":3.3,"y":2},{"r":"0.0075% SAC","x":3.7,"y":1},{"r":"0.0075% SAC","x":4,"y":0},
{"r":"0.015% SAC","x":0,"y":0},{"r":"0.015% SAC","x":0.02,"y":3},{"r":"0.015% SAC","x":0.3,"y":2},{"r":"0.015% SAC","x":0.5,"y":4},{"r":"0.015% SAC","x":0.65,"y":12},{"r":"0.015% SAC","x":0.78,"y":24},{"r":"0.015% SAC","x":0.88,"y":36},{"r":"0.015% SAC","x":0.96,"y":44},{"r":"0.015% SAC","x":1.02,"y":47},{"r":"0.015% SAC","x":1.1,"y":42},{"r":"0.015% SAC","x":1.2,"y":32},{"r":"0.015% SAC","x":1.32,"y":26},{"r":"0.015% SAC","x":1.45,"y":22},{"r":"0.015% SAC","x":1.6,"y":18},{"r":"0.015% SAC","x":1.78,"y":14},{"r":"0.015% SAC","x":1.95,"y":11},{"r":"0.015% SAC","x":2.2,"y":8},{"r":"0.015% SAC","x":2.5,"y":5},{"r":"0.015% SAC","x":2.85,"y":3},{"r":"0.015% SAC","x":3.3,"y":2},{"r":"0.015% SAC","x":3.7,"y":1},{"r":"0.015% SAC","x":4,"y":0}
],
"d":[
{"r":"Med","n":"38"},{"r":"0.0007%SAC","n":"21"},{"r":"0.002%SAC","n":"17"},{"r":"0.007%SAC","n":"17"},{"r":"0.01%SAC","n":"18"},
{"r":"Med","x":0,"y":0},{"r":"Med","x":0.02,"y":4},{"r":"Med","x":0.3,"y":2},{"r":"Med","x":0.6,"y":3},{"r":"Med","x":0.9,"y":3},{"r":"Med","x":1.1,"y":4},{"r":"Med","x":1.3,"y":7},{"r":"Med","x":1.42,"y":13},{"r":"Med","x":1.52,"y":22},{"r":"Med","x":1.6,"y":32},{"r":"Med","x":1.67,"y":40},{"r":"Med","x":1.72,"y":43},{"r":"Med","x":1.78,"y":34},{"r":"Med","x":1.86,"y":20},{"r":"Med","x":1.96,"y":10},{"r":"Med","x":2.1,"y":5},{"r":"Med","x":2.35,"y":3},{"r":"Med","x":2.7,"y":2},{"r":"Med","x":3.1,"y":1},{"r":"Med","x":4,"y":0},
{"r":"0.0007%SAC","x":0,"y":0},{"r":"0.0007%SAC","x":0.02,"y":3},{"r":"0.0007%SAC","x":0.2,"y":2},{"r":"0.0007%SAC","x":0.4,"y":5},{"r":"0.0007%SAC","x":0.6,"y":10},{"r":"0.0007%SAC","x":0.8,"y":15},{"r":"0.0007%SAC","x":0.95,"y":18},{"r":"0.0007%SAC","x":1.1,"y":19},{"r":"0.0007%SAC","x":1.2,"y":20},{"r":"0.0007%SAC","x":1.32,"y":19},{"r":"0.0007%SAC","x":1.45,"y":17},{"r":"0.0007%SAC","x":1.6,"y":14},{"r":"0.0007%SAC","x":1.78,"y":10},{"r":"0.0007%SAC","x":1.95,"y":7},{"r":"0.0007%SAC","x":2.2,"y":4},{"r":"0.0007%SAC","x":2.5,"y":3.5},{"r":"0.0007%SAC","x":2.8,"y":4},{"r":"0.0007%SAC","x":3,"y":6},{"r":"0.0007%SAC","x":3.15,"y":5},{"r":"0.0007%SAC","x":3.35,"y":2.5},{"r":"0.0007%SAC","x":3.6,"y":1},{"r":"0.0007%SAC","x":4,"y":0},
{"r":"0.002%SAC","x":0,"y":0},{"r":"0.002%SAC","x":0.02,"y":3},{"r":"0.002%SAC","x":0.2,"y":2},{"r":"0.002%SAC","x":0.4,"y":5},{"r":"0.002%SAC","x":0.58,"y":12},{"r":"0.002%SAC","x":0.75,"y":19},{"r":"0.002%SAC","x":0.88,"y":23},{"r":"0.002%SAC","x":0.96,"y":25},{"r":"0.002%SAC","x":1.05,"y":23},{"r":"0.002%SAC","x":1.15,"y":21},{"r":"0.002%SAC","x":1.3,"y":18},{"r":"0.002%SAC","x":1.45,"y":15},{"r":"0.002%SAC","x":1.62,"y":11},{"r":"0.002%SAC","x":1.8,"y":7},{"r":"0.002%SAC","x":2,"y":5},{"r":"0.002%SAC","x":2.3,"y":3.5},{"r":"0.002%SAC","x":2.6,"y":3},{"r":"0.002%SAC","x":2.9,"y":3.5},{"r":"0.002%SAC","x":3.05,"y":4.5},{"r":"0.002%SAC","x":3.2,"y":3.5},{"r":"0.002%SAC","x":3.45,"y":1.5},{"r":"0.002%SAC","x":3.7,"y":0.5},{"r":"0.002%SAC","x":4,"y":0},
{"r":"0.007%SAC","x":0,"y":0},{"r":"0.007%SAC","x":0.02,"y":3},{"r":"0.007%SAC","x":0.2,"y":2},{"r":"0.007%SAC","x":0.4,"y":5},{"r":"0.007%SAC","x":0.58,"y":13},{"r":"0.007%SAC","x":0.75,"y":22},{"r":"0.007%SAC","x":0.88,"y":27},{"r":"0.007%SAC","x":0.98,"y":29},{"r":"0.007%SAC","x":1.06,"y":27},{"r":"0.007%SAC","x":1.16,"y":24},{"r":"0.007%SAC","x":1.3,"y":19},{"r":"0.007%SAC","x":1.45,"y":14},{"r":"0.007%SAC","x":1.62,"y":10},{"r":"0.007%SAC","x":1.8,"y":6},{"r":"0.007%SAC","x":2,"y":4},{"r":"0.007%SAC","x":2.3,"y":3},{"r":"0.007%SAC","x":2.6,"y":2.5},{"r":"0.007%SAC","x":2.9,"y":3},{"r":"0.007%SAC","x":3.05,"y":4},{"r":"0.007%SAC","x":3.2,"y":3},{"r":"0.007%SAC","x":3.45,"y":1.5},{"r":"0.007%SAC","x":3.7,"y":0.5},{"r":"0.007%SAC","x":4,"y":0},
{"r":"0.01%SAC","x":0,"y":0},{"r":"0.01%SAC","x":0.02,"y":3},{"r":"0.01%SAC","x":0.3,"y":2},{"r":"0.01%SAC","x":0.5,"y":5},{"r":"0.01%SAC","x":0.68,"y":14},{"r":"0.01%SAC","x":0.82,"y":26},{"r":"0.01%SAC","x":0.94,"y":34},{"r":"0.01%SAC","x":1.03,"y":38},{"r":"0.01%SAC","x":1.1,"y":36},{"r":"0.01%SAC","x":1.2,"y":30},{"r":"0.01%SAC","x":1.32,"y":22},{"r":"0.01%SAC","x":1.45,"y":15},{"r":"0.01%SAC","x":1.6,"y":10},{"r":"0.01%SAC","x":1.78,"y":6},{"r":"0.01%SAC","x":1.98,"y":4},{"r":"0.01%SAC","x":2.3,"y":2.5},{"r":"0.01%SAC","x":2.7,"y":2},{"r":"0.01%SAC","x":2.95,"y":3},{"r":"0.01%SAC","x":3.1,"y":3.5},{"r":"0.01%SAC","x":3.25,"y":2},{"r":"0.01%SAC","x":3.5,"y":1},{"r":"0.01%SAC","x":4,"y":0}
],
"f1":[
{"r":"Med","c":"Donor A","n":"4"},{"r":"Med","c":"Donor B","n":"4"},
{"r":"Med","c":"Donor A","x":0,"y":0},{"r":"Med","c":"Donor A","x":0.02,"y":70},{"r":"Med","c":"Donor A","x":0.05,"y":6},{"r":"Med","c":"Donor A","x":0.15,"y":8},{"r":"Med","c":"Donor A","x":0.28,"y":16},{"r":"Med","c":"Donor A","x":0.4,"y":28},{"r":"Med","c":"Donor A","x":0.5,"y":44},{"r":"Med","c":"Donor A","x":0.58,"y":62},{"r":"Med","c":"Donor A","x":0.64,"y":72},{"r":"Med","c":"Donor A","x":0.7,"y":56},{"r":"Med","c":"Donor A","x":0.78,"y":28},{"r":"Med","c":"Donor A","x":0.88,"y":10},{"r":"Med","c":"Donor A","x":1,"y":4},{"r":"Med","c":"Donor A","x":1.2,"y":2},{"r":"Med","c":"Donor A","x":1.6,"y":1},{"r":"Med","c":"Donor A","x":2.2,"y":0.5},{"r":"Med","c":"Donor A","x":4,"y":0},
{"r":"Med","c":"Donor B","x":0,"y":0},{"r":"Med","c":"Donor B","x":0.02,"y":60},{"r":"Med","c":"Donor B","x":0.05,"y":8},{"r":"Med","c":"Donor B","x":0.15,"y":12},{"r":"Med","c":"Donor B","x":0.3,"y":16},{"r":"Med","c":"Donor B","x":0.45,"y":22},{"r":"Med","c":"Donor B","x":0.6,"y":30},{"r":"Med","c":"Donor B","x":0.7,"y":40},{"r":"Med","c":"Donor B","x":0.78,"y":54},{"r":"Med","c":"Donor B","x":0.85,"y":62},{"r":"Med","c":"Donor B","x":0.9,"y":52},{"r":"Med","c":"Donor B","x":0.97,"y":25},{"r":"Med","c":"Donor B","x":1.06,"y":10},{"r":"Med","c":"Donor B","x":1.2,"y":4},{"r":"Med","c":"Donor B","x":1.5,"y":2},{"r":"Med","c":"Donor B","x":2,"y":1},{"r":"Med","c":"Donor B","x":2.6,"y":0.5},{"r":"Med","c":"Donor B","x":4,"y":0}
],
"f2a":[
{"r":"Med","c":"Donor A","n":"46"},{"r":"Med","c":"Donor B","n":"15"},
{"r":"Med","c":"Donor A","x":0,"y":0},{"r":"Med","c":"Donor A","x":0.02,"y":45},{"r":"Med","c":"Donor A","x":0.05,"y":5},{"r":"Med","c":"Donor A","x":0.3,"y":4},{"r":"Med","c":"Donor A","x":0.6,"y":6},{"r":"Med","c":"Donor A","x":0.85,"y":11},{"r":"Med","c":"Donor A","x":1.05,"y":18},{"r":"Med","c":"Donor A","x":1.22,"y":28},{"r":"Med","c":"Donor A","x":1.38,"y":40},{"r":"Med","c":"Donor A","x":1.5,"y":52},{"r":"Med","c":"Donor A","x":1.6,"y":62},{"r":"Med","c":"Donor A","x":1.68,"y":68},{"r":"Med","c":"Donor A","x":1.76,"y":60},{"r":"Med","c":"Donor A","x":1.85,"y":56},{"r":"Med","c":"Donor A","x":1.95,"y":48},{"r":"Med","c":"Donor A","x":2.08,"y":36},{"r":"Med","c":"Donor A","x":2.22,"y":24},{"r":"Med","c":"Donor A","x":2.38,"y":14},{"r":"Med","c":"Donor A","x":2.55,"y":8},{"r":"Med","c":"Donor A","x":2.8,"y":4},{"r":"Med","c":"Donor A","x":3.2,"y":2},{"r":"Med","c":"Donor A","x":3.6,"y":1},{"r":"Med","c":"Donor A","x":4,"y":0},
{"r":"Med","c":"Donor B","x":0,"y":0},{"r":"Med","c":"Donor B","x":0.02,"y":50},{"r":"Med","c":"Donor B","x":0.05,"y":5},{"r":"Med","c":"Donor B","x":0.3,"y":5},{"r":"Med","c":"Donor B","x":0.5,"y":12},{"r":"Med","c":"Donor B","x":0.65,"y":26},{"r":"Med","c":"Donor B","x":0.78,"y":48},{"r":"Med","c":"Donor B","x":0.88,"y":66},{"r":"Med","c":"Donor B","x":0.96,"y":78},{"r":"Med","c":"Donor B","x":1.02,"y":88},{"r":"Med","c":"Donor B","x":1.08,"y":80},{"r":"Med","c":"Donor B","x":1.16,"y":72},{"r":"Med","c":"Donor B","x":1.26,"y":64},{"r":"Med","c":"Donor B","x":1.38,"y":52},{"r":"Med","c":"Donor B","x":1.5,"y":40},{"r":"Med","c":"Donor B","x":1.64,"y":30},{"r":"Med","c":"Donor B","x":1.8,"y":20},{"r":"Med","c":"Donor B","x":1.98,"y":12},{"r":"Med","c":"Donor B","x":2.2,"y":7},{"r":"Med","c":"Donor B","x":2.5,"y":4},{"r":"Med","c":"Donor B","x":2.9,"y":2},{"r":"Med","c":"Donor B","x":3.4,"y":1},{"r":"Med","c":"Donor B","x":4,"y":0}
],
"f2b":[
{"r":"S. aureus","c":"Donor A","n":"23"},{"r":"S. aureus","c":"Donor B","n":"9"},{"r":"Streptococcus faecalis","c":"Donor A","n":"15"},{"r":"Streptococcus faecalis","c":"Donor B","n":"11"},{"r":"Klebsiella pneumoniae","c":"Donor A","n":"18"},{"r":"Klebsiella pneumoniae","c":"Donor B","n":"10"},{"r":"Pseudomonas aeruginosa","c":"Donor A","n":"16"},{"r":"Pseudomonas aeruginosa","c":"Donor B","n":"9"},{"r":"Salmonella abortus","c":"Donor A","n":"16"},{"r":"Salmonella abortus","c":"Donor B","n":"8"},
{"r":"S. aureus","c":"Donor A","x":0,"y":0},{"r":"S. aureus","c":"Donor A","x":0.02,"y":40},{"r":"S. aureus","c":"Donor A","x":0.05,"y":6},{"r":"S. aureus","c":"Donor A","x":0.3,"y":8},{"r":"S. aureus","c":"Donor A","x":0.55,"y":12},{"r":"S. aureus","c":"Donor A","x":0.8,"y":18},{"r":"S. aureus","c":"Donor A","x":1,"y":24},{"r":"S. aureus","c":"Donor A","x":1.15,"y":28},{"r":"S. aureus","c":"Donor A","x":1.3,"y":30},{"r":"S. aureus","c":"Donor A","x":1.42,"y":34},{"r":"S. aureus","c":"Donor A","x":1.55,"y":31},{"r":"S. aureus","c":"Donor A","x":1.7,"y":28},{"r":"S. aureus","c":"Donor A","x":1.85,"y":24},{"r":"S. aureus","c":"Donor A","x":2,"y":19},{"r":"S. aureus","c":"Donor A","x":2.2,"y":13},{"r":"S. aureus","c":"Donor A","x":2.45,"y":8},{"r":"S. aureus","c":"Donor A","x":2.75,"y":4},{"r":"S. aureus","c":"Donor A","x":3.1,"y":2},{"r":"S. aureus","c":"Donor A","x":3.6,"y":1},{"r":"S. aureus","c":"Donor A","x":4,"y":0},
{"r":"S. aureus","c":"Donor B","x":0,"y":0},{"r":"S. aureus","c":"Donor B","x":0.02,"y":42},{"r":"S. aureus","c":"Donor B","x":0.05,"y":8},{"r":"S. aureus","c":"Donor B","x":0.18,"y":18},{"r":"S. aureus","c":"Donor B","x":0.32,"y":30},{"r":"S. aureus","c":"Donor B","x":0.45,"y":36},{"r":"S. aureus","c":"Donor B","x":0.56,"y":30},{"r":"S. aureus","c":"Donor B","x":0.66,"y":32},{"r":"S. aureus","c":"Donor B","x":0.76,"y":38},{"r":"S. aureus","c":"Donor B","x":0.86,"y":30},{"r":"S. aureus","c":"Donor B","x":1,"y":24},{"r":"S. aureus","c":"Donor B","x":1.18,"y":18},{"r":"S. aureus","c":"Donor B","x":1.4,"y":12},{"r":"S. aureus","c":"Donor B","x":1.65,"y":8},{"r":"S. aureus","c":"Donor B","x":1.95,"y":5},{"r":"S. aureus","c":"Donor B","x":2.4,"y":2},{"r":"S. aureus","c":"Donor B","x":3,"y":1},{"r":"S. aureus","c":"Donor B","x":4,"y":0},
{"r":"Streptococcus faecalis","c":"Donor A","x":0,"y":0},{"r":"Streptococcus faecalis","c":"Donor A","x":0.02,"y":42},{"r":"Streptococcus faecalis","c":"Donor A","x":0.05,"y":6},{"r":"Streptococcus faecalis","c":"Donor A","x":0.25,"y":12},{"r":"Streptococcus faecalis","c":"Donor A","x":0.45,"y":22},{"r":"Streptococcus faecalis","c":"Donor A","x":0.62,"y":30},{"r":"Streptococcus faecalis","c":"Donor A","x":0.78,"y":36},{"r":"Streptococcus faecalis","c":"Donor A","x":0.92,"y":40},{"r":"Streptococcus faecalis","c":"Donor A","x":1.02,"y":37},{"r":"Streptococcus faecalis","c":"Donor A","x":1.15,"y":34},{"r":"Streptococcus faecalis","c":"Donor A","x":1.3,"y":29},{"r":"Streptococcus faecalis","c":"Donor A","x":1.48,"y":23},{"r":"Streptococcus faecalis","c":"Donor A","x":1.66,"y":17},{"r":"Streptococcus faecalis","c":"Donor A","x":1.88,"y":11},{"r":"Streptococcus faecalis","c":"Donor A","x":2.1,"y":7},{"r":"Streptococcus faecalis","c":"Donor A","x":2.4,"y":4},{"r":"Streptococcus faecalis","c":"Donor A","x":2.8,"y":2},{"r":"Streptococcus faecalis","c":"Donor A","x":3.3,"y":1},{"r":"Streptococcus faecalis","c":"Donor A","x":4,"y":0},
{"r":"Streptococcus faecalis","c":"Donor B","x":0,"y":0},{"r":"Streptococcus faecalis","c":"Donor B","x":0.02,"y":30},{"r":"Streptococcus faecalis","c":"Donor B","x":0.05,"y":6},{"r":"Streptococcus faecalis","c":"Donor B","x":0.2,"y":12},{"r":"Streptococcus faecalis","c":"Donor B","x":0.38,"y":20},{"r":"Streptococcus faecalis","c":"Donor B","x":0.56,"y":30},{"r":"Streptococcus faecalis","c":"Donor B","x":0.72,"y":38},{"r":"Streptococcus faecalis","c":"Donor B","x":0.84,"y":44},{"r":"Streptococcus faecalis","c":"Donor B","x":0.92,"y":48},{"r":"Streptococcus faecalis","c":"Donor B","x":1,"y":42},{"r":"Streptococcus faecalis","c":"Donor B","x":1.12,"y":38},{"r":"Streptococcus faecalis","c":"Donor B","x":1.28,"y":30},{"r":"Streptococcus faecalis","c":"Donor B","x":1.45,"y":22},{"r":"Streptococcus faecalis","c":"Donor B","x":1.68,"y":14},{"r":"Streptococcus faecalis","c":"Donor B","x":1.95,"y":8},{"r":"Streptococcus faecalis","c":"Donor B","x":2.3,"y":4},{"r":"Streptococcus faecalis","c":"Donor B","x":2.8,"y":2},{"r":"Streptococcus faecalis","c":"Donor B","x":3.4,"y":1},{"r":"Streptococcus faecalis","c":"Donor B","x":4,"y":0},
{"r":"Klebsiella pneumoniae","c":"Donor A","x":0,"y":0},{"r":"Klebsiella pneumoniae","c":"Donor A","x":0.02,"y":32},{"r":"Klebsiella pneumoniae","c":"Donor A","x":0.05,"y":5},{"r":"Klebsiella pneumoniae","c":"Donor A","x":0.3,"y":8},{"r":"Klebsiella pneumoniae","c":"Donor A","x":0.52,"y":17},{"r":"Klebsiella pneumoniae","c":"Donor A","x":0.7,"y":30},{"r":"Klebsiella pneumoniae","c":"Donor A","x":0.84,"y":42},{"r":"Klebsiella pneumoniae","c":"Donor A","x":0.94,"y":50},{"r":"Klebsiella pneumoniae","c":"Donor A","x":1,"y":53},{"r":"Klebsiella pneumoniae","c":"Donor A","x":1.08,"y":46},{"r":"Klebsiella pneumoniae","c":"Donor A","x":1.2,"y":40},{"r":"Klebsiella pneumoniae","c":"Donor A","x":1.35,"y":34},{"r":"Klebsiella pneumoniae","c":"Donor A","x":1.5,"y":27},{"r":"Klebsiella pneumoniae","c":"Donor A","x":1.7,"y":19},{"r":"Klebsiella pneumoniae","c":"Donor A","x":1.92,"y":12},{"r":"Klebsiella pneumoniae","c":"Donor A","x":2.2,"y":7},{"r":"Klebsiella pneumoniae","c":"Donor A","x":2.55,"y":4},{"r":"Klebsiella pneumoniae","c":"Donor A","x":3,"y":2},{"r":"Klebsiella pneumoniae","c":"Donor A","x":3.5,"y":1},{"r":"Klebsiella pneumoniae","c":"Donor A","x":4,"y":0},
{"r":"Klebsiella pneumoniae","c":"Donor B","x":0,"y":0},{"r":"Klebsiella pneumoniae","c":"Donor B","x":0.02,"y":18},{"r":"Klebsiella pneumoniae","c":"Donor B","x":0.05,"y":6},{"r":"Klebsiella pneumoniae","c":"Donor B","x":0.2,"y":14},{"r":"Klebsiella pneumoniae","c":"Donor B","x":0.38,"y":24},{"r":"Klebsiella pneumoniae","c":"Donor B","x":0.55,"y":30},{"r":"Klebsiella pneumoniae","c":"Donor B","x":0.7,"y":33},{"r":"Klebsiella pneumoniae","c":"Donor B","x":0.82,"y":37},{"r":"Klebsiella pneumoniae","c":"Donor B","x":0.94,"y":35},{"r":"Klebsiella pneumoniae","c":"Donor B","x":1.06,"y":33},{"r":"Klebsiella pneumoniae","c":"Donor B","x":1.2,"y":28},{"r":"Klebsiella pneumoniae","c":"Donor B","x":1.36,"y":22},{"r":"Klebsiella pneumoniae","c":"Donor B","x":1.55,"y":15},{"r":"Klebsiella pneumoniae","c":"Donor B","x":1.8,"y":9},{"r":"Klebsiella pneumoniae","c":"Donor B","x":2.1,"y":5},{"r":"Klebsiella pneumoniae","c":"Donor B","x":2.5,"y":2.5},{"r":"Klebsiella pneumoniae","c":"Donor B","x":3,"y":1},{"r":"Klebsiella pneumoniae","c":"Donor B","x":4,"y":0},
{"r":"Pseudomonas aeruginosa","c":"Donor A","x":0,"y":0},{"r":"Pseudomonas aeruginosa","c":"Donor A","x":0.02,"y":45},{"r":"Pseudomonas aeruginosa","c":"Donor A","x":0.05,"y":6},{"r":"Pseudomonas aeruginosa","c":"Donor A","x":0.3,"y":10},{"r":"Pseudomonas aeruginosa","c":"Donor A","x":0.52,"y":21},{"r":"Pseudomonas aeruginosa","c":"Donor A","x":0.7,"y":34},{"r":"Pseudomonas aeruginosa","c":"Donor A","x":0.84,"y":41},{"r":"Pseudomonas aeruginosa","c":"Donor A","x":0.96,"y":44},{"r":"Pseudomonas aeruginosa","c":"Donor A","x":1.06,"y":42},{"r":"Pseudomonas aeruginosa","c":"Donor A","x":1.18,"y":37},{"r":"Pseudomonas aeruginosa","c":"Donor A","x":1.32,"y":33},{"r":"Pseudomonas aeruginosa","c":"Donor A","x":1.48,"y":28},{"r":"Pseudomonas aeruginosa","c":"Donor A","x":1.64,"y":22},{"r":"Pseudomonas aeruginosa","c":"Donor A","x":1.82,"y":16},{"r":"Pseudomonas aeruginosa","c":"Donor A","x":2.05,"y":10},{"r":"Pseudomonas aeruginosa","c":"Donor A","x":2.35,"y":5},{"r":"Pseudomonas aeruginosa","c":"Donor A","x":2.75,"y":2.5},{"r":"Pseudomonas aeruginosa","c":"Donor A","x":3.3,"y":1},{"r":"Pseudomonas aeruginosa","c":"Donor A","x":4,"y":0},
{"r":"Pseudomonas aeruginosa","c":"Donor B","x":0,"y":0},{"r":"Pseudomonas aeruginosa","c":"Donor B","x":0.02,"y":32},{"r":"Pseudomonas aeruginosa","c":"Donor B","x":0.05,"y":8},{"r":"Pseudomonas aeruginosa","c":"Donor B","x":0.18,"y":18},{"r":"Pseudomonas aeruginosa","c":"Donor B","x":0.34,"y":32},{"r":"Pseudomonas aeruginosa","c":"Donor B","x":0.46,"y":36},{"r":"Pseudomonas aeruginosa","c":"Donor B","x":0.56,"y":28},{"r":"Pseudomonas aeruginosa","c":"Donor B","x":0.68,"y":36},{"r":"Pseudomonas aeruginosa","c":"Donor B","x":0.8,"y":44},{"r":"Pseudomonas aeruginosa","c":"Donor B","x":0.9,"y":38},{"r":"Pseudomonas aeruginosa","c":"Donor B","x":1.02,"y":30},{"r":"Pseudomonas aeruginosa","c":"Donor B","x":1.18,"y":25},{"r":"Pseudomonas aeruginosa","c":"Donor B","x":1.38,"y":18},{"r":"Pseudomonas aeruginosa","c":"Donor B","x":1.62,"y":12},{"r":"Pseudomonas aeruginosa","c":"Donor B","x":1.9,"y":7},{"r":"Pseudomonas aeruginosa","c":"Donor B","x":2.3,"y":3},{"r":"Pseudomonas aeruginosa","c":"Donor B","x":2.8,"y":1.5},{"r":"Pseudomonas aeruginosa","c":"Donor B","x":3.4,"y":0.5},{"r":"Pseudomonas aeruginosa","c":"Donor B","x":4,"y":0},
{"r":"Salmonella abortus","c":"Donor A","x":0,"y":0},{"r":"Salmonella abortus","c":"Donor A","x":0.02,"y":42},{"r":"Salmonella abortus","c":"Donor A","x":0.05,"y":6},{"r":"Salmonella abortus","c":"Donor A","x":0.3,"y":11},{"r":"Salmonella abortus","c":"Donor A","x":0.52,"y":23},{"r":"Salmonella abortus","c":"Donor A","x":0.7,"y":36},{"r":"Salmonella abortus","c":"Donor A","x":0.84,"y":43},{"r":"Salmonella abortus","c":"Donor A","x":0.94,"y":46},{"r":"Salmonella abortus","c":"Donor A","x":1.02,"y":48},{"r":"Salmonella abortus","c":"Donor A","x":1.1,"y":43},{"r":"Salmonella abortus","c":"Donor A","x":1.24,"y":36},{"r":"Salmonella abortus","c":"Donor A","x":1.4,"y":29},{"r":"Salmonella abortus","c":"Donor A","x":1.58,"y":22},{"r":"Salmonella abortus","c":"Donor A","x":1.8,"y":15},{"r":"Salmonella abortus","c":"Donor A","x":2.05,"y":9},{"r":"Salmonella abortus","c":"Donor A","x":2.35,"y":5},{"r":"Salmonella abortus","c":"Donor A","x":2.75,"y":2.5},{"r":"Salmonella abortus","c":"Donor A","x":3.3,"y":1},{"r":"Salmonella abortus","c":"Donor A","x":4,"y":0},
{"r":"Salmonella abortus","c":"Donor B","x":0,"y":0},{"r":"Salmonella abortus","c":"Donor B","x":0.02,"y":28},{"r":"Salmonella abortus","c":"Donor B","x":0.05,"y":8},{"r":"Salmonella abortus","c":"Donor B","x":0.2,"y":16},{"r":"Salmonella abortus","c":"Donor B","x":0.38,"y":28},{"r":"Salmonella abortus","c":"Donor B","x":0.56,"y":35},{"r":"Salmonella abortus","c":"Donor B","x":0.7,"y":38},{"r":"Salmonella abortus","c":"Donor B","x":0.82,"y":40},{"r":"Salmonella abortus","c":"Donor B","x":0.92,"y":37},{"r":"Salmonella abortus","c":"Donor B","x":1.04,"y":33},{"r":"Salmonella abortus","c":"Donor B","x":1.18,"y":27},{"r":"Salmonella abortus","c":"Donor B","x":1.34,"y":20},{"r":"Salmonella abortus","c":"Donor B","x":1.52,"y":14},{"r":"Salmonella abortus","c":"Donor B","x":1.76,"y":8},{"r":"Salmonella abortus","c":"Donor B","x":2.05,"y":4},{"r":"Salmonella abortus","c":"Donor B","x":2.5,"y":2},{"r":"Salmonella abortus","c":"Donor B","x":3,"y":1},{"r":"Salmonella abortus","c":"Donor B","x":4,"y":0}
],
"f3":[
{"r":"Salmonella typhosa","c":"Donor A","n":"16"},{"r":"Salmonella typhosa","c":"Donor B","n":"10"},
{"r":"Salmonella typhosa","c":"Donor A","x":0,"y":0},{"r":"Salmonella typhosa","c":"Donor A","x":0.02,"y":30},{"r":"Salmonella typhosa","c":"Donor A","x":0.05,"y":4},{"r":"Salmonella typhosa","c":"Donor A","x":0.3,"y":5},{"r":"Salmonella typhosa","c":"Donor A","x":0.52,"y":11},{"r":"Salmonella typhosa","c":"Donor A","x":0.7,"y":20},{"r":"Salmonella typhosa","c":"Donor A","x":0.84,"y":28},{"r":"Salmonella typhosa","c":"Donor A","x":0.96,"y":32},{"r":"Salmonella typhosa","c":"Donor A","x":1.04,"y":33},{"r":"Salmonella typhosa","c":"Donor A","x":1.12,"y":30},{"r":"Salmonella typhosa","c":"Donor A","x":1.26,"y":26},{"r":"Salmonella typhosa","c":"Donor A","x":1.42,"y":22},{"r":"Salmonella typhosa","c":"Donor A","x":1.6,"y":17},{"r":"Salmonella typhosa","c":"Donor A","x":1.8,"y":12},{"r":"Salmonella typhosa","c":"Donor A","x":2.05,"y":8},{"r":"Salmonella typhosa","c":"Donor A","x":2.35,"y":5},{"r":"Salmonella typhosa","c":"Donor A","x":2.75,"y":3},{"r":"Salmonella typhosa","c":"Donor A","x":3.3,"y":1.5},{"r":"Salmonella typhosa","c":"Donor A","x":3.8,"y":0.5},{"r":"Salmonella typhosa","c":"Donor A","x":4,"y":0},
{"r":"Salmonella typhosa","c":"Donor B","x":0,"y":0},{"r":"Salmonella typhosa","c":"Donor B","x":0.02,"y":28},{"r":"Salmonella typhosa","c":"Donor B","x":0.05,"y":5},{"r":"Salmonella typhosa","c":"Donor B","x":0.2,"y":9},{"r":"Salmonella typhosa","c":"Donor B","x":0.4,"y":14},{"r":"Salmonella typhosa","c":"Donor B","x":0.58,"y":17},{"r":"Salmonella typhosa","c":"Donor B","x":0.74,"y":20},{"r":"Salmonella typhosa","c":"Donor B","x":0.88,"y":23},{"r":"Salmonella typhosa","c":"Donor B","x":0.98,"y":24},{"r":"Salmonella typhosa","c":"Donor B","x":1.08,"y":21},{"r":"Salmonella typhosa","c":"Donor B","x":1.22,"y":18},{"r":"Salmonella typhosa","c":"Donor B","x":1.4,"y":14},{"r":"Salmonella typhosa","c":"Donor B","x":1.6,"y":10},{"r":"Salmonella typhosa","c":"Donor B","x":1.85,"y":7},{"r":"Salmonella typhosa","c":"Donor B","x":2.15,"y":4},{"r":"Salmonella typhosa","c":"Donor B","x":2.5,"y":2.5},{"r":"Salmonella typhosa","c":"Donor B","x":3,"y":1.5},{"r":"Salmonella typhosa","c":"Donor B","x":3.5,"y":0.5},{"r":"Salmonella typhosa","c":"Donor B","x":4,"y":0}
],
"box":[
{"g":1,"lo":45,"q1":60,"med":88,"q3":142,"hi":232},
{"g":2,"lo":11,"q1":19,"med":45,"q3":58,"hi":60},
{"g":3,"lo":40,"q1":49,"med":99,"q3":136,"hi":182},
{"g":4,"lo":17,"q1":28,"med":42,"q3":48,"hi":53}
],
"out":[
{"g":1,"v":268},{"g":1,"v":40},{"g":2,"v":63},{"g":2,"v":7},{"g":3,"v":190},{"g":3,"v":35},{"g":4,"v":56},{"g":4,"v":14}
],
"br":[
{"g":"LTA","a":3.1,"b":4.55,"m":3.82},
{"g":"LPS","a":5.24,"b":8.7,"m":6.92}
]
},
"hconcat":[
{"vconcat":[
 {"vconcat":[
  {"data":{"name":"a"},
   "title":{"text":"a","anchor":"start","frame":"bounds","dx":-2,"offset":2},
   "facet":{
    "row":{"field":"r","type":"nominal","sort":["1","2","3"],"header":{"labelExpr":"datum.value == '3' ? 'SAC' : 'Med'","labelOrient":"right","labelAngle":0,"labelFontSize":12.5,"labelPadding":15,"title":null}},
    "column":{"field":"c","type":"nominal","sort":["CD86","HLA-DR"],"header":{"labelOrient":"bottom","labelFont":"Open Sans","labelFontSize":13.5,"labelPadding":17,"title":null}}
   },
   "spacing":{"row":18.5,"column":44},
   "bounds":"flush",
   "resolve":{"axis":{"x":"independent","y":"independent"}},
   "spec":{"width":103,"height":36,"view":{"stroke":"#666","strokeWidth":0.8},
    "layer":[
     {"transform":[{"filter":"datum.x != null"}],
      "mark":{"type":"area","color":"#5b3f93","opacity":1,"line":{"color":"#111","strokeWidth":0.6}},
      "encoding":{
       "x":{"field":"x","type":"quantitative","scale":{"domain":[0,4],"nice":false,"zero":false},"axis":{"values":[0,1,2,3,4],"labelOverlap":false,"labelExpr":"'10' + ['⁰','¹','²','³','⁴'][datum.value]","labelFontSize":5.5,"labelPadding":0,"tickSize":2,"tickColor":"#333","domainColor":"#333","title":null,"labelFlush":false}},
       "y":{"field":"y","type":"quantitative","scale":{"domain":[0,100],"nice":false},"axis":{"values":[0,20,40,60,80,100],"labelOverlap":false,"labelFontSize":4.5,"labelAngle":-90,"labelAlign":"center","labelBaseline":"bottom","labelPadding":1,"tickSize":2,"tickColor":"#333","domainColor":"#333","title":"Counts","titleFontSize":5,"titlePadding":1}}}},
     {"transform":[{"filter":"datum.t != null"}],
      "mark":{"type":"text","fontSize":4.5,"baseline":"bottom","dy":-1,"color":"#333"},
      "encoding":{"x":{"datum":2,"type":"quantitative"},"y":{"datum":100,"type":"quantitative"},"text":{"field":"t"}}},
     {"transform":[{"filter":"datum.t != null"}],
      "mark":{"type":"text","fontSize":4.5,"baseline":"top","dy":7,"color":"#333"},
      "encoding":{"x":{"datum":2,"type":"quantitative"},"y":{"datum":0,"type":"quantitative"},"text":{"field":"xt"}}}
    ]}
  },
  {"hconcat":[
   {"vconcat":[
    {"data":{"name":"c"},
     "title":{"text":"HLA-DR","orient":"bottom","anchor":"middle","frame":"group","font":"Open Sans","fontSize":13,"offset":8,"dx":43.5},
     "facet":{"row":{"field":"r","type":"nominal","sort":["Medium","0.00075% SAC","0.0075% SAC","0.015% SAC"],"header":{"labelOrient":"right","labelAngle":0,"labelFontSize":12,"labelPadding":12,"title":null}}},
     "spacing":{"row":27},
     "bounds":"flush",
     "resolve":{"axis":{"x":"independent","y":"independent"}},
     "spec":{"width":87,"height":48,"view":{"stroke":"#777","strokeWidth":0.8},
      "layer":[
       {"transform":[{"filter":"datum.x != null"}],
        "mark":{"type":"area","color":"#5b3f93","opacity":1,"line":{"color":"#111","strokeWidth":0.6}},
        "encoding":{
         "x":{"field":"x","type":"quantitative","scale":{"domain":[0,4],"nice":false,"zero":false},"axis":{"values":[0,1,2,3,4],"labelOverlap":false,"labelExpr":"'10' + ['⁰','¹','²','³','⁴'][datum.value]","labelFontSize":5.5,"labelPadding":0,"tickSize":2,"tickColor":"#333","domainColor":"#333","title":"HLA-DR","titleFontSize":5,"titlePadding":0,"labelFlush":false}},
         "y":{"field":"y","type":"quantitative","scale":{"domain":[0,60],"nice":false},"axis":{"values":[0,10,20,30,40,50,60],"labelOverlap":false,"labelExpr":"datum.value == 0 || datum.value == 60 ? datum.label : ''","labelFontSize":5,"labelAngle":-90,"labelAlign":"center","labelBaseline":"bottom","labelPadding":1,"tickSize":2,"tickColor":"#333","domainColor":"#333","title":"Counts","titleFontSize":5,"titlePadding":1}}}},
       {"transform":[{"filter":"datum.n != null"}],
        "mark":{"type":"text","fontSize":9.5,"baseline":"top","dy":6,"color":"#222"},
        "encoding":{"x":{"datum":1.35,"type":"quantitative"},"y":{"datum":60,"type":"quantitative"},"text":{"field":"n"}}}
      ]}
    }],
    "title":{"text":"c","anchor":"start","frame":"bounds","offset":3}
   },
   {"vconcat":[
    {"data":{"name":"d"},
     "title":{"text":"CD86","orient":"bottom","anchor":"middle","frame":"group","font":"Open Sans","fontSize":13,"offset":10,"dx":33},
     "facet":{"row":{"field":"r","type":"nominal","sort":["Med","0.0007%SAC","0.002%SAC","0.007%SAC","0.01%SAC"],"header":{"labelOrient":"right","labelAngle":0,"labelFontSize":10,"labelPadding":5,"title":null}}},
     "spacing":{"row":22.5},
     "bounds":"flush",
     "resolve":{"axis":{"x":"independent","y":"independent"}},
     "spec":{"width":76,"height":37,"view":{"stroke":"#777","strokeWidth":0.8},
      "layer":[
       {"transform":[{"filter":"datum.x != null"}],
        "mark":{"type":"area","color":"#5b3f93","opacity":1,"line":{"color":"#111","strokeWidth":0.6}},
        "encoding":{
         "x":{"field":"x","type":"quantitative","scale":{"domain":[0,4],"nice":false,"zero":false},"axis":{"values":[0,1,2,3,4],"labelOverlap":false,"labelExpr":"'10' + ['⁰','¹','²','³','⁴'][datum.value]","labelFontSize":5,"labelPadding":0,"tickSize":2,"tickColor":"#333","domainColor":"#333","title":"CD86","titleFontSize":4.5,"titlePadding":0,"labelFlush":false}},
         "y":{"field":"y","type":"quantitative","scale":{"domain":[0,50],"nice":false},"axis":{"values":[0,10,20,30,40,50],"labelOverlap":false,"labelExpr":"datum.value == 0 || datum.value == 50 ? datum.label : ''","labelFontSize":5,"labelAngle":-90,"labelAlign":"center","labelBaseline":"bottom","labelPadding":1,"tickSize":2,"tickColor":"#333","domainColor":"#333","title":"Counts","titleFontSize":4.5,"titlePadding":1}}}},
       {"transform":[{"filter":"datum.n != null"}],
        "mark":{"type":"text","fontSize":9,"align":"right","baseline":"top","dx":-4,"dy":3,"color":"#222"},
        "encoding":{"x":{"datum":4,"type":"quantitative"},"y":{"datum":50,"type":"quantitative"},"text":{"field":"n"}}}
      ]}
    }],
    "title":{"text":"d","anchor":"start","frame":"bounds","dx":-14,"offset":-4}
   }
  ],"spacing":-10}
 ],"spacing":5},
 {"hconcat":[
  {"width":1,"height":1,"data":{"values":[{}]},"mark":{"type":"text","text":""},"title":{"text":"e","anchor":"start","dx":-14,"offset":4}},
  {"width":227,"height":234,"view":{"stroke":"#999"},
   "layer":[
    {"data":{"name":"box"},"mark":{"type":"rule","color":"#999"},
     "encoding":{"x":{"field":"g","type":"quantitative","scale":{"domain":[0,5],"nice":false,"zero":false},"axis":{"values":[1,2,3,4],"labelExpr":"datum.value % 2 == 1 ? 'Med' : 'SAC'","labelFontSize":12.5,"labelPadding":8,"tickSize":4,"tickColor":"#999","domainColor":"#999","labelColor":"#222","title":null}},
      "y":{"field":"lo","type":"quantitative","scale":{"domain":[0,300],"nice":false},"axis":{"tickCount":6,"labelOverlap":false,"labelSeparation":0,"labelFontSize":11,"labelColor":"#333","labelPadding":4,"tickSize":4,"tickColor":"#999","domainColor":"#999","title":"GMFI","titleFontSize":12.5,"titlePadding":0}},
      "y2":{"field":"hi"}}},
    {"data":{"name":"box"},"mark":{"type":"bar","width":27,"color":"#d3d3d3","stroke":"#9a9a9a","strokeWidth":1},
     "encoding":{"x":{"field":"g","type":"quantitative"},"y":{"field":"q1","type":"quantitative"},"y2":{"field":"q3"}}},
    {"data":{"name":"box"},"mark":{"type":"tick","orient":"horizontal","size":27,"thickness":1,"color":"#888"},
     "encoding":{"x":{"field":"g","type":"quantitative"},"y":{"field":"med","type":"quantitative"}}},
    {"data":{"name":"box"},"mark":{"type":"tick","orient":"horizontal","size":12,"thickness":1,"color":"#999"},
     "encoding":{"x":{"field":"g","type":"quantitative"},"y":{"field":"lo","type":"quantitative"}}},
    {"data":{"name":"box"},"mark":{"type":"tick","orient":"horizontal","size":12,"thickness":1,"color":"#999"},
     "encoding":{"x":{"field":"g","type":"quantitative"},"y":{"field":"hi","type":"quantitative"}}},
    {"data":{"name":"out"},"mark":{"type":"point","filled":true,"color":"#111","size":28,"opacity":1},
     "encoding":{"x":{"field":"g","type":"quantitative"},"y":{"field":"v","type":"quantitative"}}},
    {"data":{"values":[{}]},"mark":{"type":"rule","color":"#111","strokeWidth":1.2},
     "encoding":{"x":{"datum":0.97,"type":"quantitative"},"x2":{"datum":2.22},"y":{"datum":275,"type":"quantitative"}}},
    {"data":{"values":[{}]},"mark":{"type":"text","text":"P =0.013","fontSize":13,"baseline":"bottom","dy":-1,"color":"#111"},
     "encoding":{"x":{"datum":1.6,"type":"quantitative"},"y":{"datum":276,"type":"quantitative"}}},
    {"data":{"values":[{}]},"mark":{"type":"rule","color":"#111","strokeWidth":1.2},
     "encoding":{"x":{"datum":2.89,"type":"quantitative"},"x2":{"datum":4.08},"y":{"datum":237,"type":"quantitative"}}},
    {"data":{"values":[{}]},"mark":{"type":"text","text":"P =0.0075","fontSize":13,"baseline":"bottom","dy":-3,"color":"#111"},
     "encoding":{"x":{"datum":3.55,"type":"quantitative"},"y":{"datum":238,"type":"quantitative"}}},
    {"data":{"values":[{}]},"mark":{"type":"rule","color":"#222","strokeWidth":1,"yOffset":27},
     "encoding":{"x":{"datum":0.7,"type":"quantitative"},"x2":{"datum":2.38},"y":{"datum":0,"type":"quantitative"}}},
    {"data":{"values":[{}]},"mark":{"type":"rule","color":"#222","strokeWidth":1,"yOffset":27},
     "encoding":{"x":{"datum":2.75,"type":"quantitative"},"x2":{"datum":4.25},"y":{"datum":0,"type":"quantitative"}}},
    {"data":{"values":[{}]},"mark":{"type":"text","text":"HLA-DR","fontSize":12.5,"baseline":"middle","dy":34,"color":"#222"},
     "encoding":{"x":{"datum":1.5,"type":"quantitative"},"y":{"datum":0,"type":"quantitative"}}},
    {"data":{"values":[{}]},"mark":{"type":"text","text":"CD86","fontSize":12.5,"baseline":"middle","dy":34,"color":"#222"},
     "encoding":{"x":{"datum":3.45,"type":"quantitative"},"y":{"datum":0,"type":"quantitative"}}}
   ]}
 ],"spacing":4}
],"spacing":15},
{"vconcat":[
 {"width":1,"height":1,"data":{"values":[{}]},"mark":{"type":"text","text":""}},
 {"vconcat":[
  {"hconcat":[
   {"width":1,"height":1,"data":{"values":[{}]},"mark":{"type":"text","text":""},"title":{"text":"b","anchor":"start","dx":5,"offset":-4}},
   {"vconcat":[
    {"data":{"name":"b1"},
     "title":{"text":"Fluorescence Intensity (Geometric-Mean)","orient":"bottom","anchor":"middle","frame":"group","font":"Liberation Sans","fontSize":11.5,"offset":8,"dx":132.25},
     "facet":{
      "row":{"field":"r","type":"nominal","sort":["HLA-DR","CD86","CD80","CD40","CD83"],"header":{"labelOrient":"right","labelAngle":0,"labelFontSize":12,"labelPadding":10,"title":"Cell Count","titleOrient":"left","titleFontSize":12,"titlePadding":0}},
      "column":{"field":"c","type":"nominal","sort":["Med","SAC"],"header":{"labelOrient":"top","labelFontSize":12,"labelPadding":9,"title":null}}
     },
     "spacing":{"row":13.5,"column":37},
     "bounds":"flush",
     "resolve":{"axis":{"x":"independent","y":"independent"}},
     "spec":{"width":115,"height":38,"view":{"stroke":"#999","strokeWidth":0.8},
      "layer":[
       {"transform":[{"filter":"datum.x != null"}],
        "mark":{"type":"line","strokeWidth":1},
        "encoding":{
         "x":{"field":"x","type":"quantitative","scale":{"domain":[0,4],"nice":false,"zero":false},"axis":{"values":[0,1,2,3,4],"labelOverlap":false,"labelExpr":"'10' + ['⁰','¹','²','³','⁴'][datum.value]","labelFontSize":3.5,"labelColor":"#777","labelPadding":0,"tickSize":1.5,"tickColor":"#999","domain":false,"title":null,"labelFlush":false}},
         "y":{"field":"y","type":"quantitative","scale":{"domain":[0,100],"nice":false},"axis":{"values":[0,25,50,75,100],"labelOverlap":false,"labelExpr":"format(datum.value*8,'d')","labelFontSize":3,"labelColor":"#777","labelPadding":1,"tickSize":1.5,"tickColor":"#999","domain":false,"title":"Cell","titleFontSize":3.5,"titleColor":"#777","titlePadding":1}},
         "color":{"field":"c","type":"nominal","scale":{"domain":["Med","SAC"],"range":["#7b53ad","#3d7dcc"]},"legend":null}}},
       {"transform":[{"filter":"datum.n != null"}],
        "mark":{"type":"text","fontSize":12,"align":"right","baseline":"top","dx":-5,"dy":4,"color":"#222"},
        "encoding":{"x":{"datum":4,"type":"quantitative"},"y":{"datum":100,"type":"quantitative"},"text":{"field":"n"}}},
       {"transform":[{"filter":"datum.n != null"}],
        "mark":{"type":"text","fontSize":3.5,"baseline":"top","dy":5,"color":"#888"},
        "encoding":{"x":{"datum":2,"type":"quantitative"},"y":{"datum":0,"type":"quantitative"},"text":{"field":"xt"}}}
      ]}
    },
    {"data":{"name":"b2"},
     "title":{"text":"Fluorescence Intensity (Geometric-Mean)","orient":"bottom","anchor":"middle","frame":"group","font":"Liberation Sans","fontSize":11.5,"offset":8,"dx":132.25},
     "facet":{
      "row":{"field":"r","type":"nominal","sort":["HLA-ABC","TLR-2","TLR-4","CCR7","CD36"],"header":{"labelOrient":"right","labelAngle":0,"labelFontSize":12,"labelPadding":10,"title":"Cell Count","titleOrient":"left","titleFontSize":12,"titlePadding":0}},
      "column":{"field":"c","type":"nominal","sort":["Med","SAC"],"header":{"labelOrient":"top","labelFontSize":12,"labelPadding":9,"title":null}}
     },
     "spacing":{"row":14,"column":37},
     "bounds":"flush",
     "resolve":{"axis":{"x":"independent","y":"independent"}},
     "spec":{"width":113,"height":37.5,"view":{"stroke":"#999","strokeWidth":0.8},
      "layer":[
       {"transform":[{"filter":"datum.x != null"}],
        "mark":{"type":"line","strokeWidth":1},
        "encoding":{
         "x":{"field":"x","type":"quantitative","scale":{"domain":[0,4],"nice":false,"zero":false},"axis":{"values":[0,1,2,3,4],"labelOverlap":false,"labelExpr":"'10' + ['⁰','¹','²','³','⁴'][datum.value]","labelFontSize":3.5,"labelColor":"#777","labelPadding":0,"tickSize":1.5,"tickColor":"#999","domain":false,"title":null,"labelFlush":false}},
         "y":{"field":"y","type":"quantitative","scale":{"domain":[0,100],"nice":false},"axis":{"values":[0,25,50,75,100],"labelOverlap":false,"labelExpr":"format(datum.value*8,'d')","labelFontSize":3,"labelColor":"#777","labelPadding":1,"tickSize":1.5,"tickColor":"#999","domain":false,"title":"Cell","titleFontSize":3.5,"titleColor":"#777","titlePadding":1}},
         "color":{"field":"c","type":"nominal","scale":{"domain":["Med","SAC"],"range":["#7b53ad","#3d7dcc"]},"legend":null}}},
       {"transform":[{"filter":"datum.n != null"}],
        "mark":{"type":"text","fontSize":12,"align":"right","baseline":"top","dx":-5,"dy":4,"color":"#222"},
        "encoding":{"x":{"datum":4,"type":"quantitative"},"y":{"datum":100,"type":"quantitative"},"text":{"field":"n"}}},
       {"transform":[{"filter":"datum.n != null"}],
        "mark":{"type":"text","fontSize":3.5,"baseline":"top","dy":5,"color":"#888"},
        "encoding":{"x":{"datum":2,"type":"quantitative"},"y":{"datum":0,"type":"quantitative"},"text":{"field":"xt"}}}
      ]}
    }
   ],"spacing":5}
  ],"spacing":-6},
  {"hconcat":[
   {"vconcat":[
    {"data":{"name":"f1"},
     "facet":{
      "row":{"field":"r","type":"nominal","header":{"labelOrient":"right","labelAngle":0,"labelFontSize":11.5,"labelPadding":14,"title":null}},
      "column":{"field":"c","type":"nominal","sort":["Donor A","Donor B"],"header":{"labelOrient":"top","labelFontSize":11.5,"labelPadding":8,"title":null}}
     },
     "spacing":{"column":47},
     "bounds":"flush",
     "resolve":{"axis":{"x":"independent","y":"independent"}},
     "spec":{"width":80,"height":29,"view":{"stroke":"#555","strokeWidth":0.8},
      "layer":[
       {"transform":[{"filter":"datum.x != null"}],
        "mark":{"type":"area","color":"#5b3f93","opacity":1,"line":{"color":"#111","strokeWidth":0.6}},
        "encoding":{
         "x":{"field":"x","type":"quantitative","scale":{"domain":[0,4],"nice":false,"zero":false},"axis":{"values":[0,1,2,3,4],"labelOverlap":false,"labelExpr":"'10' + ['⁰','¹','²','³','⁴'][datum.value]","labelFontSize":5.5,"labelPadding":0,"tickSize":2,"tickColor":"#333","domainColor":"#333","title":"IgG","titleFontSize":5,"titlePadding":0,"labelFlush":false}},
         "y":{"field":"y","type":"quantitative","scale":{"domain":[0,100],"nice":false},"axis":{"values":[0,100],"labelOverlap":false,"labelFontSize":5,"labelAngle":-90,"labelAlign":"center","labelBaseline":"bottom","labelPadding":1,"tickSize":2,"tickColor":"#333","domainColor":"#333","title":"Counts","titleFontSize":5,"titlePadding":1}}}},
       {"transform":[{"filter":"datum.n != null"}],
        "mark":{"type":"text","fontSize":8.5,"align":"right","baseline":"top","dx":-7,"dy":3,"color":"#333"},
        "encoding":{"x":{"datum":4,"type":"quantitative"},"y":{"datum":100,"type":"quantitative"},"text":{"field":"n"}}}
      ]}
    },
    {"vconcat":[
     {"data":{"name":"f2a"},
      "facet":{
       "row":{"field":"r","type":"nominal","header":{"labelOrient":"right","labelAngle":0,"labelFontSize":11.5,"labelPadding":14,"title":null}},
       "column":{"field":"c","type":"nominal","sort":["Donor A","Donor B"],"header":{"labels":false,"title":null}}
      },
      "spacing":{"column":47},
      "bounds":"flush",
      "resolve":{"axis":{"x":"independent"}},
      "spec":{"width":80,"height":25,
       "layer":[
        {"transform":[{"filter":"datum.x != null"}],
         "mark":{"type":"area","color":"#5b3f93","opacity":1,"line":{"color":"#111","strokeWidth":0.6}},
         "encoding":{
          "x":{"field":"x","type":"quantitative","scale":{"domain":[0,4],"nice":false,"zero":false},"axis":{"labels":false,"ticks":false,"domainColor":"#999","title":null}},
          "y":{"field":"y","type":"quantitative","scale":{"domain":[0,100],"nice":false},"axis":null}}},
        {"transform":[{"filter":"datum.n != null"}],
         "mark":{"type":"text","fontSize":8.5,"align":"right","baseline":"top","dx":-7,"dy":0,"color":"#333"},
         "encoding":{"x":{"datum":4,"type":"quantitative"},"y":{"datum":100,"type":"quantitative"},"text":{"field":"n"}}}
       ]}
     },
     {"data":{"name":"f2b"},
      "facet":{
       "row":{"field":"r","type":"nominal","sort":["S. aureus","Streptococcus faecalis","Klebsiella pneumoniae","Pseudomonas aeruginosa","Salmonella abortus"],"header":{"labelOrient":"right","labelAngle":0,"labelFontSize":11.5,"labelFontStyle":"italic","labelPadding":14,"title":null}},
       "column":{"field":"c","type":"nominal","sort":["Donor A","Donor B"],"header":{"labels":false,"title":null}}
      },
      "spacing":{"row":5.5,"column":47},
      "bounds":"flush",
      "resolve":{"axis":{"x":"independent"}},
      "spec":{"width":80,"height":25,
       "layer":[
        {"transform":[{"filter":"datum.x != null"}],
         "mark":{"type":"area","color":"#5b3f93","opacity":1,"line":{"color":"#111","strokeWidth":0.6}},
         "encoding":{
          "x":{"field":"x","type":"quantitative","scale":{"domain":[0,4],"nice":false,"zero":false},"axis":{"labels":false,"ticks":false,"domainColor":"#999","title":null}},
          "y":{"field":"y","type":"quantitative","scale":{"domain":[0,100],"nice":false},"axis":null}}},
        {"transform":[{"filter":"datum.n != null"}],
         "mark":{"type":"text","fontSize":8.5,"align":"right","baseline":"top","dx":-7,"dy":0,"color":"#333"},
         "encoding":{"x":{"datum":4,"type":"quantitative"},"y":{"datum":100,"type":"quantitative"},"text":{"field":"n"}}}
       ]}
     },
     {"data":{"name":"f3"},
      "title":{"text":"HLA-DR","orient":"bottom","anchor":"middle","frame":"group","font":"Liberation Sans","fontSize":12.5,"offset":19,"dx":101.5},
      "facet":{
       "row":{"field":"r","type":"nominal","header":{"labelOrient":"right","labelAngle":0,"labelFontSize":11.5,"labelFontStyle":"italic","labelPadding":14,"title":null}},
       "column":{"field":"c","type":"nominal","sort":["Donor A","Donor B"],"header":{"labels":false,"title":null}}
      },
      "spacing":{"column":47},
      "bounds":"flush",
      "resolve":{"axis":{"x":"independent","y":"independent"}},
      "spec":{"width":80,"height":30,"view":{"stroke":"#555","strokeWidth":0.8},
       "layer":[
        {"transform":[{"filter":"datum.x != null"}],
         "mark":{"type":"area","color":"#5b3f93","opacity":1,"line":{"color":"#111","strokeWidth":0.6}},
         "encoding":{
          "x":{"field":"x","type":"quantitative","scale":{"domain":[0,4],"nice":false,"zero":false},"axis":{"values":[0,1,2,3,4],"labelOverlap":false,"labelExpr":"'10' + ['⁰','¹','²','³','⁴'][datum.value]","labelFontSize":5.5,"labelPadding":0,"tickSize":2,"tickColor":"#333","domainColor":"#333","title":"HLA-DR","titleFontSize":5,"titlePadding":0,"labelFlush":false}},
          "y":{"field":"y","type":"quantitative","scale":{"domain":[0,70],"nice":false},"axis":{"values":[0,70],"labelOverlap":false,"labelFontSize":5,"labelAngle":-90,"labelAlign":"center","labelBaseline":"bottom","labelPadding":1,"tickSize":2,"tickColor":"#333","domainColor":"#333","title":"Counts","titleFontSize":5,"titlePadding":1}}}},
        {"transform":[{"filter":"datum.n != null"}],
         "mark":{"type":"text","fontSize":8.5,"align":"right","baseline":"top","dx":-7,"dy":3,"color":"#333"},
         "encoding":{"x":{"datum":4,"type":"quantitative"},"y":{"datum":70,"type":"quantitative"},"text":{"field":"n"}}}
       ]}
     }
    ],"spacing":5}
   ],"spacing":9,"title":{"text":"f","anchor":"start","frame":"bounds","dx":-2,"offset":2}},
   {"width":35,"height":273,"data":{"name":"br"},
    "layer":[
     {"mark":{"type":"rule","color":"#222","strokeWidth":1.5},
      "encoding":{"x":{"datum":0,"type":"quantitative","scale":{"domain":[0,1]},"axis":null},"y":{"field":"a","type":"quantitative","scale":{"domain":[0,9],"reverse":true},"axis":null},"y2":{"field":"b"}}},
     {"mark":{"type":"text","align":"left","dx":9,"fontSize":12.5,"color":"#222"},
      "encoding":{"x":{"datum":0,"type":"quantitative"},"y":{"field":"m","type":"quantitative"},"text":{"field":"g"}}}
    ]}
  ],"spacing":7}
 ],"spacing":6}
],"spacing":-28}
],
"spacing":-14
}
